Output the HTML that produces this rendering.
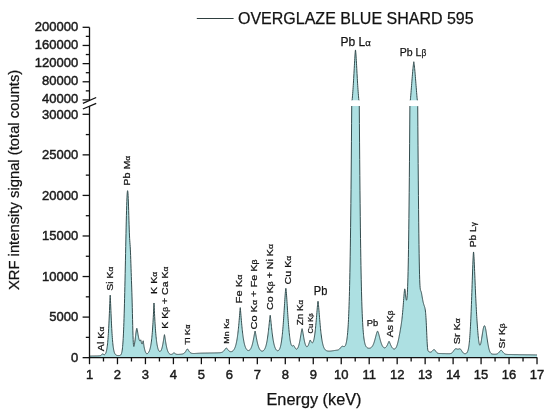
<!DOCTYPE html>
<html><head><meta charset="utf-8"><style>
html,body{margin:0;padding:0;background:#fff;}
svg{display:block;will-change:transform;}
svg text{stroke:#1a1a1a;stroke-width:0.45px;}
svg text.t{stroke-width:0.25px;}
svg text.p{stroke-width:0.25px;}
</style></head><body>
<svg width="550" height="416" viewBox="0 0 550 416">
<rect width="550" height="416" fill="#fff"/>
<path d="M89.5,357.66 L89.5,356.04 89.64,356.03 89.78,356.03 89.92,356.03 90.06,356.03 90.2,356.02 90.34,356.02 90.48,356.02 90.62,356.02 90.76,356.01 90.9,356.01 91.04,356.01 91.18,356.01 91.32,356 91.46,356 91.6,356 91.74,355.99 91.88,355.99 92.02,355.99 92.16,355.99 92.3,355.98 92.44,355.98 92.58,355.98 92.72,355.98 92.86,355.97 93,355.97 93.14,355.97 93.28,355.96 93.42,355.96 93.56,355.96 93.7,355.96 93.84,355.95 93.98,355.95 94.12,355.95 94.25,355.95 94.39,355.94 94.53,355.94 94.67,355.94 94.81,355.93 94.95,355.93 95.09,355.93 95.23,355.93 95.37,355.92 95.51,355.92 95.65,355.92 95.79,355.92 95.93,355.91 96.07,355.91 96.21,355.91 96.35,355.91 96.49,355.9 96.63,355.9 96.77,355.9 96.91,355.89 97.05,355.89 97.19,355.89 97.33,355.89 97.47,355.88 97.61,355.88 97.75,355.88 97.89,355.87 98.03,355.87 98.17,355.86 98.31,355.86 98.45,355.85 98.59,355.85 98.73,355.84 98.87,355.84 99.01,355.83 99.15,355.82 99.29,355.81 99.43,355.8 99.57,355.78 99.71,355.77 99.85,355.75 99.99,355.72 100.13,355.69 100.27,355.66 100.41,355.62 100.55,355.57 100.69,355.51 100.83,355.45 100.97,355.37 101.11,355.28 101.25,355.18 101.39,355.06 101.53,354.93 101.67,354.79 101.81,354.64 101.95,354.48 102.09,354.31 102.23,354.14 102.37,353.99 102.51,353.85 102.65,353.77 102.79,353.81 102.93,353.91 103.07,354.02 103.21,354.14 103.35,354.26 103.48,354.37 103.62,354.47 103.76,354.55 103.9,354.62 104.04,354.66 104.18,354.68 104.32,354.68 104.46,354.65 104.6,354.6 104.74,354.53 104.88,354.43 105.02,354.3 105.16,354.15 105.3,353.96 105.44,353.74 105.58,353.49 105.72,353.21 105.86,352.88 106,352.5 106.14,352.08 106.28,351.6 106.42,351.07 106.56,350.47 106.7,349.8 106.84,349.06 106.98,348.22 107.12,347.3 107.26,346.27 107.4,345.14 107.54,343.88 107.68,342.5 107.82,340.98 107.96,339.32 108.1,337.51 108.24,335.54 108.38,333.4 108.52,331.09 108.66,328.61 108.8,325.95 108.94,323.12 109.08,320.13 109.22,316.99 109.36,313.72 109.5,310.35 109.64,306.94 109.78,303.54 109.92,300.27 110.06,297.31 110.2,295.2 110.34,297.31 110.48,300.27 110.62,303.54 110.76,306.94 110.9,310.35 111.04,313.72 111.18,316.99 111.32,320.13 111.46,323.12 111.6,325.95 111.74,328.61 111.88,331.09 112.02,333.4 112.16,335.54 112.3,337.51 112.44,339.32 112.58,340.98 112.72,342.5 112.85,343.88 112.99,345.14 113.13,346.27 113.27,347.3 113.41,348.23 113.55,349.06 113.69,349.81 113.83,350.48 113.97,351.08 114.11,351.62 114.25,352.09 114.39,352.52 114.53,352.9 114.67,353.23 114.81,353.53 114.95,353.79 115.09,354.02 115.23,354.22 115.37,354.4 115.51,354.56 115.65,354.7 115.79,354.82 115.93,354.93 116.07,355.02 116.21,355.1 116.35,355.17 116.49,355.23 116.63,355.29 116.77,355.34 116.91,355.38 117.05,355.41 117.19,355.44 117.33,355.47 117.47,355.49 117.61,355.51 117.75,355.52 117.89,355.53 118.03,355.54 118.17,355.54 118.31,355.55 118.45,355.55 118.59,355.55 118.73,355.55 118.87,355.54 119.01,355.54 119.15,355.53 119.29,355.51 119.43,355.5 119.57,355.48 119.71,355.45 119.85,355.42 119.99,355.37 120.13,355.32 120.27,355.26 120.41,355.17 120.55,355.07 120.69,354.95 120.83,354.8 120.97,354.61 121.11,354.39 121.25,354.12 121.39,353.79 121.53,353.4 121.67,352.93 121.81,352.37 121.95,351.71 122.09,350.94 122.22,350.04 122.36,348.99 122.5,347.78 122.64,346.39 122.78,344.79 122.92,342.97 123.06,340.92 123.2,338.6 123.34,336.01 123.48,333.12 123.62,329.92 123.76,326.41 123.9,322.56 124.04,318.37 124.18,313.84 124.32,308.98 124.46,303.79 124.6,298.28 124.74,292.48 124.88,286.41 125.02,280.11 125.16,273.6 125.3,266.95 125.44,260.2 125.58,253.41 125.72,246.64 125.86,239.95 126,233.42 126.14,227.11 126.28,221.1 126.42,215.46 126.56,210.25 126.7,205.54 126.84,201.39 126.98,197.86 127.12,194.99 127.26,192.82 127.4,191.39 127.54,190.7 127.68,190.77 127.82,191.6 127.96,193.17 128.1,195.46 128.24,198.43 128.38,202.01 128.52,206.11 128.66,210.62 128.8,215.37 128.94,220.17 129.08,224.81 129.22,229.07 129.36,232.81 129.5,235.96 129.64,238.53 129.78,240.66 129.92,242.55 130.06,244.44 130.2,246.56 130.34,249.08 130.48,252.1 130.62,255.62 130.76,259.57 130.9,263.81 131.04,268.17 131.18,272.46 131.32,276.49 131.45,280.29 131.59,284.06 131.73,287.98 131.87,292.23 132.01,296.91 132.15,302.09 132.29,307.7 132.43,313.63 132.57,319.65 132.71,325.49 132.85,330.88 132.99,335.58 133.13,339.42 133.27,342.35 133.41,344.4 133.55,345.68 133.69,346.34 133.83,346.52 133.97,346.36 134.11,345.96 134.25,345.39 134.39,344.69 134.53,343.9 134.67,343.02 134.81,342.07 134.95,341.05 135.09,339.98 135.23,338.87 135.37,337.73 135.51,336.56 135.65,335.4 135.79,334.24 135.93,333.11 136.07,332.02 136.21,331 136.35,330.08 136.49,329.28 136.63,328.66 136.77,328.29 136.91,328.48 137.05,328.92 137.19,329.52 137.33,330.23 137.47,331.02 137.61,331.85 137.75,332.71 137.89,333.56 138.03,334.41 138.17,335.23 138.31,336.01 138.45,336.74 138.59,337.43 138.73,338.06 138.87,338.64 139.01,339.16 139.15,339.62 139.29,340.03 139.43,340.36 139.57,340.63 139.71,340.82 139.85,340.92 139.99,340.93 140.13,340.84 140.27,340.65 140.41,340.4 140.55,340.1 140.69,339.86 140.82,339.89 140.96,340.48 141.1,341.2 141.24,341.92 141.38,342.58 141.52,343.13 141.66,343.57 141.8,343.87 141.94,344.04 142.08,344.07 142.22,343.96 142.36,343.72 142.5,343.34 142.64,342.84 142.78,342.24 142.92,341.61 143.06,341.05 143.2,340.79 143.34,341.47 143.48,342.46 143.62,343.53 143.76,344.58 143.9,345.56 144.04,346.45 144.18,347.25 144.32,347.97 144.46,348.62 144.6,349.2 144.74,349.74 144.88,350.24 145.02,350.71 145.16,351.14 145.3,351.54 145.44,351.91 145.58,352.25 145.72,352.55 145.86,352.82 146,353.05 146.14,353.25 146.28,353.4 146.42,353.53 146.56,353.62 146.7,353.67 146.84,353.7 146.98,353.71 147.12,353.69 147.26,353.64 147.4,353.58 147.54,353.5 147.68,353.4 147.82,353.29 147.96,353.16 148.1,353.02 148.24,352.86 148.38,352.68 148.52,352.49 148.66,352.28 148.8,352.04 148.94,351.79 149.08,351.52 149.22,351.22 149.36,350.9 149.5,350.55 149.64,350.17 149.78,349.75 149.92,349.3 150.06,348.81 150.19,348.28 150.33,347.71 150.47,347.09 150.61,346.42 150.75,345.69 150.89,344.9 151.03,344.05 151.17,343.13 151.31,342.14 151.45,341.07 151.59,339.92 151.73,338.67 151.87,337.34 152.01,335.9 152.15,334.35 152.29,332.69 152.43,330.91 152.57,329.01 152.71,326.98 152.85,324.81 152.99,322.5 153.13,320.05 153.27,317.46 153.41,314.73 153.55,311.87 153.69,308.91 153.83,305.89 153.97,302.99 154.11,304.7 154.25,307.7 154.39,310.69 154.53,313.6 154.67,316.38 154.81,319.02 154.95,321.53 155.09,323.89 155.23,326.11 155.37,328.19 155.51,330.14 155.65,331.97 155.79,333.67 155.93,335.25 156.07,336.73 156.21,338.09 156.35,339.37 156.49,340.54 156.63,341.64 156.77,342.64 156.91,343.58 157.05,344.44 157.19,345.23 157.33,345.96 157.47,346.62 157.61,347.24 157.75,347.8 157.89,348.31 158.03,348.77 158.17,349.19 158.31,349.57 158.45,349.91 158.59,350.22 158.73,350.48 158.87,350.72 159.01,350.92 159.15,351.09 159.29,351.22 159.42,351.33 159.56,351.41 159.7,351.46 159.84,351.48 159.98,351.48 160.12,351.44 160.26,351.38 160.4,351.29 160.54,351.17 160.68,351.01 160.82,350.83 160.96,350.62 161.1,350.37 161.24,350.09 161.38,349.77 161.52,349.42 161.66,349.03 161.8,348.61 161.94,348.14 162.08,347.64 162.22,347.09 162.36,346.51 162.5,345.88 162.64,345.21 162.78,344.5 162.92,343.75 163.06,342.97 163.2,342.15 163.34,341.29 163.48,340.41 163.62,339.51 163.76,338.6 163.9,337.69 164.04,336.8 164.18,335.95 164.32,335.2 164.46,334.67 164.6,335.22 164.74,335.99 164.88,336.86 165.02,337.77 165.16,338.7 165.3,339.63 165.44,340.55 165.58,341.46 165.72,342.34 165.86,343.19 166,344 166.14,344.78 166.28,345.52 166.42,346.22 166.56,346.89 166.7,347.51 166.84,348.1 166.98,348.65 167.12,349.16 167.26,349.64 167.4,350.09 167.54,350.5 167.68,350.89 167.82,351.24 167.96,351.57 168.1,351.88 168.24,352.15 168.38,352.41 168.52,352.65 168.66,352.86 168.79,353.06 168.93,353.24 169.07,353.4 169.21,353.55 169.35,353.68 169.49,353.8 169.63,353.91 169.77,354.01 169.91,354.1 170.05,354.17 170.19,354.24 170.33,354.29 170.47,354.34 170.61,354.38 170.75,354.4 170.89,354.41 171.03,354.41 171.17,354.41 171.31,354.39 171.45,354.37 171.59,354.33 171.73,354.29 171.87,354.24 172.01,354.18 172.15,354.11 172.29,354.03 172.43,353.94 172.57,353.85 172.71,353.74 172.85,353.63 172.99,353.51 173.13,353.39 173.27,353.27 173.41,353.15 173.55,353.04 173.69,352.93 173.83,352.84 173.97,352.79 174.11,352.83 174.25,352.91 174.39,353 174.53,353.1 174.67,353.21 174.81,353.32 174.95,353.43 175.09,353.54 175.23,353.64 175.37,353.73 175.51,353.82 175.65,353.91 175.79,353.98 175.93,354.05 176.07,354.11 176.21,354.16 176.35,354.21 176.49,354.25 176.63,354.28 176.77,354.31 176.91,354.34 177.05,354.35 177.19,354.37 177.33,354.38 177.47,354.39 177.61,354.4 177.75,354.4 177.89,354.4 178.03,354.4 178.16,354.4 178.3,354.39 178.44,354.39 178.58,354.38 178.72,354.38 178.86,354.37 179,354.36 179.14,354.35 179.28,354.34 179.42,354.33 179.56,354.32 179.7,354.31 179.84,354.3 179.98,354.29 180.12,354.28 180.26,354.27 180.4,354.25 180.54,354.24 180.68,354.22 180.82,354.21 180.96,354.19 181.1,354.18 181.24,354.16 181.38,354.14 181.52,354.12 181.66,354.1 181.8,354.08 181.94,354.05 182.08,354.03 182.22,354 182.36,353.97 182.5,353.94 182.64,353.9 182.78,353.86 182.92,353.82 183.06,353.77 183.2,353.72 183.34,353.66 183.48,353.59 183.62,353.52 183.76,353.44 183.9,353.35 184.04,353.26 184.18,353.16 184.32,353.04 184.46,352.92 184.6,352.79 184.74,352.65 184.88,352.5 185.02,352.34 185.16,352.16 185.3,351.98 185.44,351.78 185.58,351.58 185.72,351.36 185.86,351.14 186,350.91 186.14,350.68 186.28,350.44 186.42,350.2 186.56,349.96 186.7,349.73 186.84,349.51 186.98,349.31 187.12,349.13 187.26,348.98 187.39,348.9 187.53,348.97 187.67,349.1 187.81,349.26 187.95,349.45 188.09,349.66 188.23,349.87 188.37,350.1 188.51,350.32 188.65,350.54 188.79,350.76 188.93,350.98 189.07,351.18 189.21,351.38 189.35,351.57 189.49,351.75 189.63,351.92 189.77,352.08 189.91,352.23 190.05,352.36 190.19,352.49 190.33,352.61 190.47,352.71 190.61,352.81 190.75,352.9 190.89,352.98 191.03,353.05 191.17,353.11 191.31,353.17 191.45,353.22 191.59,353.26 191.73,353.3 191.87,353.34 192.01,353.36 192.15,353.39 192.29,353.41 192.43,353.43 192.57,353.44 192.71,353.46 192.85,353.47 192.99,353.47 193.13,353.48 193.27,353.48 193.41,353.49 193.55,353.49 193.69,353.49 193.83,353.49 193.97,353.48 194.11,353.48 194.25,353.48 194.39,353.47 194.53,353.47 194.67,353.46 194.81,353.46 194.95,353.45 195.09,353.45 195.23,353.44 195.37,353.44 195.51,353.43 195.65,353.42 195.79,353.42 195.93,353.41 196.07,353.4 196.21,353.39 196.35,353.39 196.49,353.38 196.63,353.37 196.76,353.36 196.9,353.36 197.04,353.35 197.18,353.34 197.32,353.34 197.46,353.33 197.6,353.32 197.74,353.31 197.88,353.31 198.02,353.3 198.16,353.29 198.3,353.28 198.44,353.28 198.58,353.27 198.72,353.26 198.86,353.25 199,353.25 199.14,353.24 199.28,353.23 199.42,353.22 199.56,353.22 199.7,353.21 199.84,353.2 199.98,353.19 200.12,353.19 200.26,353.18 200.4,353.17 200.54,353.16 200.68,353.15 200.82,353.15 200.96,353.14 201.1,353.13 201.24,353.12 201.38,353.12 201.52,353.11 201.66,353.11 201.8,353.11 201.94,353.11 202.08,353.11 202.22,353.1 202.36,353.1 202.5,353.1 202.64,353.1 202.78,353.09 202.92,353.09 203.06,353.09 203.2,353.09 203.34,353.08 203.48,353.08 203.62,353.08 203.76,353.08 203.9,353.07 204.04,353.07 204.18,353.07 204.32,353.07 204.46,353.06 204.6,353.06 204.74,353.06 204.88,353.06 205.02,353.05 205.16,353.05 205.3,353.05 205.44,353.05 205.58,353.04 205.72,353.04 205.86,353.04 206,353.04 206.13,353.03 206.27,353.03 206.41,353.03 206.55,353.03 206.69,353.02 206.83,353.02 206.97,353.02 207.11,353.02 207.25,353.02 207.39,353.01 207.53,353.01 207.67,353.01 207.81,353.01 207.95,353 208.09,353 208.23,353 208.37,353 208.51,352.99 208.65,352.99 208.79,352.99 208.93,352.99 209.07,352.98 209.21,352.98 209.35,352.98 209.49,352.98 209.63,352.97 209.77,352.97 209.91,352.97 210.05,352.97 210.19,352.96 210.33,352.96 210.47,352.96 210.61,352.96 210.75,352.95 210.89,352.95 211.03,352.95 211.17,352.95 211.31,352.94 211.45,352.94 211.59,352.94 211.73,352.94 211.87,352.93 212.01,352.93 212.15,352.93 212.29,352.93 212.43,352.93 212.57,352.92 212.71,352.92 212.85,352.92 212.99,352.92 213.13,352.91 213.27,352.91 213.41,352.91 213.55,352.91 213.69,352.9 213.83,352.9 213.97,352.9 214.11,352.9 214.25,352.89 214.39,352.89 214.53,352.89 214.67,352.89 214.81,352.88 214.95,352.88 215.09,352.88 215.23,352.88 215.36,352.87 215.5,352.87 215.64,352.87 215.78,352.87 215.92,352.86 216.06,352.86 216.2,352.86 216.34,352.85 216.48,352.85 216.62,352.85 216.76,352.85 216.9,352.84 217.04,352.84 217.18,352.84 217.32,352.83 217.46,352.83 217.6,352.83 217.74,352.82 217.88,352.82 218.02,352.81 218.16,352.81 218.3,352.81 218.44,352.8 218.58,352.8 218.72,352.79 218.86,352.78 219,352.78 219.14,352.77 219.28,352.76 219.42,352.75 219.56,352.74 219.7,352.73 219.84,352.72 219.98,352.7 220.12,352.69 220.26,352.67 220.4,352.65 220.54,352.63 220.68,352.61 220.82,352.58 220.96,352.56 221.1,352.52 221.24,352.49 221.38,352.45 221.52,352.41 221.66,352.37 221.8,352.32 221.94,352.26 222.08,352.21 222.22,352.14 222.36,352.07 222.5,351.99 222.64,351.91 222.78,351.82 222.92,351.73 223.06,351.62 223.2,351.51 223.34,351.39 223.48,351.26 223.62,351.13 223.76,350.98 223.9,350.83 224.04,350.67 224.18,350.5 224.32,350.33 224.46,350.15 224.6,349.96 224.73,349.77 224.87,349.57 225.01,349.37 225.15,349.17 225.29,348.98 225.43,348.78 225.57,348.59 225.71,348.42 225.85,348.25 225.99,348.11 226.13,347.99 226.27,347.93 226.41,347.98 226.55,348.09 226.69,348.22 226.83,348.37 226.97,348.54 227.11,348.71 227.25,348.89 227.39,349.08 227.53,349.27 227.67,349.45 227.81,349.63 227.95,349.81 228.09,349.98 228.23,350.15 228.37,350.31 228.51,350.46 228.65,350.6 228.79,350.73 228.93,350.86 229.07,350.97 229.21,351.08 229.35,351.17 229.49,351.26 229.63,351.34 229.77,351.41 229.91,351.47 230.05,351.52 230.19,351.57 230.33,351.6 230.47,351.63 230.61,351.65 230.75,351.66 230.89,351.67 231.03,351.66 231.17,351.65 231.31,351.63 231.45,351.61 231.59,351.57 231.73,351.53 231.87,351.48 232.01,351.42 232.15,351.36 232.29,351.28 232.43,351.2 232.57,351.11 232.71,351.01 232.85,350.9 232.99,350.78 233.13,350.65 233.27,350.51 233.41,350.36 233.55,350.19 233.69,350.01 233.83,349.82 233.97,349.62 234.1,349.4 234.24,349.16 234.38,348.9 234.52,348.63 234.66,348.34 234.8,348.03 234.94,347.7 235.08,347.35 235.22,346.97 235.36,346.57 235.5,346.14 235.64,345.68 235.78,345.19 235.92,344.67 236.06,344.13 236.2,343.54 236.34,342.92 236.48,342.26 236.62,341.57 236.76,340.83 236.9,340.05 237.04,339.23 237.18,338.36 237.32,337.44 237.46,336.47 237.6,335.45 237.74,334.38 237.88,333.25 238.02,332.07 238.16,330.84 238.3,329.54 238.44,328.19 238.58,326.79 238.72,325.32 238.86,323.81 239,322.24 239.14,320.62 239.28,318.97 239.42,317.27 239.56,315.55 239.7,313.82 239.84,312.1 239.98,310.43 240.12,308.86 240.26,307.61 240.4,308.86 240.54,310.43 240.68,312.1 240.82,313.82 240.96,315.55 241.1,317.27 241.24,318.96 241.38,320.62 241.52,322.23 241.66,323.8 241.8,325.31 241.94,326.78 242.08,328.18 242.22,329.53 242.36,330.82 242.5,332.06 242.64,333.23 242.78,334.36 242.92,335.43 243.06,336.44 243.2,337.41 243.33,338.32 243.47,339.19 243.61,340.01 243.75,340.79 243.89,341.52 244.03,342.21 244.17,342.86 244.31,343.48 244.45,344.05 244.59,344.6 244.73,345.11 244.87,345.58 245.01,346.03 245.15,346.45 245.29,346.84 245.43,347.21 245.57,347.55 245.71,347.87 245.85,348.16 245.99,348.44 246.13,348.69 246.27,348.92 246.41,349.14 246.55,349.33 246.69,349.52 246.83,349.68 246.97,349.83 247.11,349.96 247.25,350.08 247.39,350.18 247.53,350.27 247.67,350.35 247.81,350.41 247.95,350.46 248.09,350.5 248.23,350.53 248.37,350.54 248.51,350.54 248.65,350.53 248.79,350.5 248.93,350.46 249.07,350.41 249.21,350.35 249.35,350.27 249.49,350.18 249.63,350.07 249.77,349.95 249.91,349.82 250.05,349.66 250.19,349.5 250.33,349.31 250.47,349.11 250.61,348.89 250.75,348.65 250.89,348.39 251.03,348.11 251.17,347.81 251.31,347.49 251.45,347.15 251.59,346.78 251.73,346.39 251.87,345.98 252.01,345.54 252.15,345.07 252.29,344.58 252.43,344.06 252.57,343.51 252.7,342.94 252.84,342.34 252.98,341.72 253.12,341.07 253.26,340.39 253.4,339.69 253.54,338.96 253.68,338.22 253.82,337.46 253.96,336.68 254.1,335.89 254.24,335.1 254.38,334.32 254.52,333.55 254.66,332.8 254.8,332.1 254.94,331.49 255.08,331.05 255.22,331.49 255.36,332.11 255.5,332.81 255.64,333.56 255.78,334.33 255.92,335.12 256.06,335.92 256.2,336.7 256.34,337.48 256.48,338.25 256.62,339 256.76,339.73 256.9,340.43 257.04,341.11 257.18,341.77 257.32,342.4 257.46,343 257.6,343.58 257.74,344.13 257.88,344.65 258.02,345.15 258.16,345.62 258.3,346.07 258.44,346.49 258.58,346.89 258.72,347.26 258.86,347.62 259,347.95 259.14,348.26 259.28,348.55 259.42,348.82 259.56,349.07 259.7,349.3 259.84,349.52 259.98,349.72 260.12,349.9 260.26,350.07 260.4,350.22 260.54,350.36 260.68,350.49 260.82,350.6 260.96,350.7 261.1,350.79 261.24,350.87 261.38,350.94 261.52,350.99 261.66,351.03 261.8,351.07 261.94,351.09 262.07,351.1 262.21,351.1 262.35,351.09 262.49,351.07 262.63,351.04 262.77,350.99 262.91,350.94 263.05,350.87 263.19,350.8 263.33,350.71 263.47,350.6 263.61,350.49 263.75,350.36 263.89,350.21 264.03,350.05 264.17,349.87 264.31,349.68 264.45,349.47 264.59,349.24 264.73,348.99 264.87,348.72 265.01,348.42 265.15,348.11 265.29,347.77 265.43,347.4 265.57,347.01 265.71,346.59 265.85,346.14 265.99,345.66 266.13,345.14 266.27,344.6 266.41,344.01 266.55,343.39 266.69,342.74 266.83,342.04 266.97,341.3 267.11,340.52 267.25,339.7 267.39,338.84 267.53,337.92 267.67,336.97 267.81,335.97 267.95,334.92 268.09,333.83 268.23,332.69 268.37,331.51 268.51,330.29 268.65,329.03 268.79,327.74 268.93,326.42 269.07,325.07 269.21,323.71 269.35,322.34 269.49,320.98 269.63,319.64 269.77,318.35 269.91,317.14 270.05,316.07 270.19,315.32 270.33,316.06 270.47,317.13 270.61,318.34 270.75,319.63 270.89,320.97 271.03,322.33 271.17,323.69 271.3,325.05 271.44,326.4 271.58,327.72 271.72,329.01 271.86,330.27 272,331.49 272.14,332.66 272.28,333.8 272.42,334.89 272.56,335.94 272.7,336.94 272.84,337.89 272.98,338.8 273.12,339.67 273.26,340.49 273.4,341.26 273.54,342 273.68,342.7 273.82,343.35 273.96,343.97 274.1,344.55 274.24,345.1 274.38,345.61 274.52,346.09 274.66,346.54 274.8,346.96 274.94,347.35 275.08,347.71 275.22,348.05 275.36,348.36 275.5,348.65 275.64,348.92 275.78,349.17 275.92,349.39 276.06,349.6 276.2,349.78 276.34,349.95 276.48,350.1 276.62,350.24 276.76,350.35 276.9,350.46 277.04,350.54 277.18,350.61 277.32,350.67 277.46,350.7 277.6,350.73 277.74,350.73 277.88,350.73 278.02,350.7 278.16,350.66 278.3,350.6 278.44,350.52 278.58,350.42 278.72,350.3 278.86,350.16 279,350 279.14,349.82 279.28,349.6 279.42,349.37 279.56,349.1 279.7,348.8 279.84,348.47 279.98,348.11 280.12,347.71 280.26,347.27 280.4,346.79 280.54,346.26 280.67,345.69 280.81,345.07 280.95,344.4 281.09,343.67 281.23,342.89 281.37,342.04 281.51,341.14 281.65,340.16 281.79,339.12 281.93,338.01 282.07,336.83 282.21,335.58 282.35,334.24 282.49,332.84 282.63,331.35 282.77,329.78 282.91,328.14 283.05,326.42 283.19,324.63 283.33,322.76 283.47,320.82 283.61,318.82 283.75,316.76 283.89,314.64 284.03,312.48 284.17,310.28 284.31,308.06 284.45,305.83 284.59,303.61 284.73,301.41 284.87,299.25 285.01,297.15 285.15,295.15 285.29,293.28 285.43,291.59 285.57,290.11 285.71,288.95 285.85,288.3 285.99,288.94 286.13,290.1 286.27,291.57 286.41,293.26 286.55,295.13 286.69,297.12 286.83,299.21 286.97,301.37 287.11,303.56 287.25,305.78 287.39,308 287.53,310.22 287.67,312.4 287.81,314.55 287.95,316.66 288.09,318.71 288.23,320.69 288.37,322.61 288.51,324.46 288.65,326.23 288.79,327.93 288.93,329.54 289.07,331.07 289.21,332.52 289.35,333.88 289.49,335.16 289.63,336.36 289.77,337.48 289.91,338.52 290.04,339.48 290.18,340.37 290.32,341.18 290.46,341.91 290.6,342.58 290.74,343.18 290.88,343.71 291.02,344.18 291.16,344.58 291.3,344.93 291.44,345.22 291.58,345.46 291.72,345.64 291.86,345.78 292,345.88 292.14,345.94 292.28,345.96 292.42,345.96 292.56,345.92 292.7,345.87 292.84,345.8 292.98,345.72 293.12,345.64 293.26,345.56 293.4,345.5 293.54,345.47 293.68,345.49 293.82,345.63 293.96,345.82 294.1,346.05 294.24,346.29 294.38,346.54 294.52,346.8 294.66,347.07 294.8,347.33 294.94,347.58 295.08,347.82 295.22,348.04 295.36,348.25 295.5,348.44 295.64,348.61 295.78,348.76 295.92,348.88 296.06,348.98 296.2,349.06 296.34,349.1 296.48,349.13 296.62,349.12 296.76,349.09 296.9,349.03 297.04,348.94 297.18,348.82 297.32,348.68 297.46,348.5 297.6,348.3 297.74,348.07 297.88,347.81 298.02,347.51 298.16,347.19 298.3,346.84 298.44,346.46 298.58,346.04 298.72,345.6 298.86,345.12 299,344.61 299.14,344.06 299.27,343.49 299.41,342.88 299.55,342.24 299.69,341.57 299.83,340.86 299.97,340.13 300.11,339.37 300.25,338.59 300.39,337.78 300.53,336.95 300.67,336.1 300.81,335.24 300.95,334.38 301.09,333.52 301.23,332.66 301.37,331.83 301.51,331.03 301.65,330.27 301.79,329.59 301.93,329.02 302.07,328.66 302.21,329 302.35,329.55 302.49,330.21 302.63,330.95 302.77,331.73 302.91,332.54 303.05,333.37 303.19,334.21 303.33,335.05 303.47,335.88 303.61,336.7 303.75,337.49 303.89,338.27 304.03,339.02 304.17,339.74 304.31,340.43 304.45,341.09 304.59,341.71 304.73,342.3 304.87,342.85 305.01,343.37 305.15,343.85 305.29,344.29 305.43,344.69 305.57,345.06 305.71,345.39 305.85,345.68 305.99,345.94 306.13,346.16 306.27,346.35 306.41,346.5 306.55,346.61 306.69,346.69 306.83,346.74 306.97,346.75 307.11,346.72 307.25,346.67 307.39,346.58 307.53,346.45 307.67,346.3 307.81,346.11 307.95,345.89 308.09,345.65 308.23,345.37 308.37,345.07 308.51,344.74 308.64,344.38 308.78,344 308.92,343.61 309.06,343.19 309.2,342.76 309.34,342.33 309.48,341.89 309.62,341.45 309.76,341.02 309.9,340.63 310.04,340.27 310.18,340.02 310.32,340.12 310.46,340.32 310.6,340.56 310.74,340.83 310.88,341.11 311.02,341.38 311.16,341.65 311.3,341.89 311.44,342.12 311.58,342.33 311.72,342.5 311.86,342.64 312,342.75 312.14,342.81 312.28,342.84 312.42,342.82 312.56,342.75 312.7,342.64 312.84,342.48 312.98,342.26 313.12,342 313.26,341.68 313.4,341.3 313.54,340.86 313.68,340.37 313.82,339.82 313.96,339.2 314.1,338.53 314.24,337.79 314.38,336.99 314.52,336.12 314.66,335.2 314.8,334.2 314.94,333.14 315.08,332.02 315.22,330.83 315.36,329.58 315.5,328.27 315.64,326.89 315.78,325.46 315.92,323.97 316.06,322.43 316.2,320.84 316.34,319.21 316.48,317.55 316.62,315.86 316.76,314.15 316.9,312.44 317.04,310.74 317.18,309.06 317.32,307.42 317.46,305.85 317.6,304.39 317.74,303.07 317.88,301.96 318.01,301.28 318.15,301.97 318.29,303.08 318.43,304.4 318.57,305.88 318.71,307.45 318.85,309.1 318.99,310.79 319.13,312.51 319.27,314.24 319.41,315.96 319.55,317.67 319.69,319.36 319.83,321.01 319.97,322.63 320.11,324.21 320.25,325.73 320.39,327.21 320.53,328.64 320.67,330.01 320.81,331.32 320.95,332.58 321.09,333.78 321.23,334.92 321.37,336.01 321.51,337.04 321.65,338.02 321.79,338.95 321.93,339.82 322.07,340.65 322.21,341.42 322.35,342.15 322.49,342.83 322.63,343.47 322.77,344.07 322.91,344.63 323.05,345.16 323.19,345.64 323.33,346.1 323.47,346.52 323.61,346.91 323.75,347.28 323.89,347.61 324.03,347.92 324.17,348.21 324.31,348.48 324.45,348.72 324.59,348.95 324.73,349.15 324.87,349.34 325.01,349.52 325.15,349.68 325.29,349.83 325.43,349.96 325.57,350.08 325.71,350.19 325.85,350.3 325.99,350.39 326.13,350.47 326.27,350.55 326.41,350.62 326.55,350.68 326.69,350.73 326.83,350.78 326.97,350.83 327.11,350.87 327.24,350.91 327.38,350.94 327.52,350.97 327.66,350.99 327.8,351.02 327.94,351.03 328.08,351.05 328.22,351.07 328.36,351.08 328.5,351.09 328.64,351.1 328.78,351.11 328.92,351.11 329.06,351.12 329.2,351.12 329.34,351.12 329.48,351.13 329.62,351.13 329.76,351.13 329.9,351.13 330.04,351.12 330.18,351.11 330.32,351.09 330.46,351.08 330.6,351.06 330.74,351.04 330.88,351.03 331.02,351.01 331.16,350.99 331.3,350.97 331.44,350.95 331.58,350.93 331.72,350.92 331.86,350.9 332,350.88 332.14,350.86 332.28,350.84 332.42,350.82 332.56,350.8 332.7,350.78 332.84,350.76 332.98,350.74 333.12,350.72 333.26,350.7 333.4,350.68 333.54,350.66 333.68,350.64 333.82,350.62 333.96,350.6 334.1,350.58 334.24,350.56 334.38,350.54 334.52,350.52 334.66,350.5 334.8,350.48 334.94,350.46 335.08,350.44 335.22,350.42 335.36,350.4 335.5,350.38 335.64,350.36 335.78,350.34 335.92,350.32 336.06,350.29 336.2,350.27 336.34,350.25 336.48,350.23 336.61,350.21 336.75,350.18 336.89,350.16 337.03,350.14 337.17,350.11 337.31,350.08 337.45,350.05 337.59,350.02 337.73,349.98 337.87,349.94 338.01,349.9 338.15,349.85 338.29,349.8 338.43,349.74 338.57,349.67 338.71,349.6 338.85,349.52 338.99,349.43 339.13,349.32 339.27,349.21 339.41,349.09 339.55,348.96 339.69,348.82 339.83,348.67 339.97,348.51 340.11,348.34 340.25,348.17 340.39,347.99 340.53,347.81 340.67,347.63 340.81,347.45 340.95,347.28 341.09,347.11 341.23,346.95 341.37,346.8 341.51,346.67 341.65,346.55 341.79,346.45 341.93,346.37 342.07,346.3 342.21,346.26 342.35,346.24 342.49,346.23 342.63,346.24 342.77,346.26 342.91,346.3 343.05,346.34 343.19,346.39 343.33,346.44 343.47,346.49 343.61,346.53 343.75,346.57 343.89,346.59 344.03,346.61 344.17,346.6 344.31,346.57 344.45,346.52 344.59,346.45 344.73,346.35 344.87,346.21 345.01,346.05 345.15,345.85 345.29,345.62 345.43,345.35 345.57,345.04 345.71,344.68 345.85,344.28 345.98,343.83 346.12,343.32 346.26,342.76 346.4,342.13 346.54,341.44 346.68,340.67 346.82,339.83 346.96,338.89 347.1,337.86 347.24,336.72 347.38,335.46 347.52,334.08 347.66,332.55 347.8,330.87 347.94,329.02 348.08,326.98 348.22,324.74 348.36,322.27 348.5,319.55 348.64,316.57 348.78,313.28 348.92,309.67 349.06,305.71 349.2,301.36 349.34,296.58 349.48,291.34 349.62,285.6 349.76,279.35 349.9,272.5 350.04,265.01 350.18,256.82 350.32,247.89 350.46,238.14 350.6,227.52 350.74,215.97 350.88,203.42 351.02,189.79 351.16,175.03 351.3,159.06 351.44,141.81 351.58,123.21 351.72,106 351.86,106 352,106 352.14,106 352.28,106 352.42,106 352.56,106 352.7,106 352.84,106 352.98,106 353.12,106 353.26,106 353.4,106 353.54,106 353.68,106 353.82,106 353.96,106 354.1,106 354.24,106 354.38,106 354.52,106 354.66,106 354.8,106 354.94,106 355.08,106 355.21,106 355.35,106 355.49,106 355.63,106 355.77,106 355.91,106 356.05,106 356.19,106 356.33,106 356.47,106 356.61,106 356.75,106 356.89,106 357.03,106 357.17,106 357.31,106 357.45,106 357.59,106 357.73,106 357.87,106 358.01,106 358.15,106 358.29,106 358.43,106 358.57,106 358.71,106 358.85,106 358.99,106 359.13,106 359.27,106 359.41,123.54 359.55,142.15 359.69,159.41 359.83,175.39 359.97,190.17 360.11,203.8 360.25,216.36 360.39,227.93 360.53,238.56 360.67,248.31 360.81,257.26 360.95,265.46 361.09,272.96 361.23,279.82 361.37,286.09 361.51,291.81 361.65,297.02 361.79,301.78 361.93,306.11 362.07,310.05 362.21,313.64 362.35,316.9 362.49,319.87 362.63,322.56 362.77,325.01 362.91,327.23 363.05,329.25 363.19,331.08 363.33,332.74 363.47,334.25 363.61,335.62 363.75,336.85 363.89,337.98 364.03,338.99 364.17,339.92 364.31,340.75 364.45,341.51 364.58,342.19 364.72,342.82 364.86,343.38 365,343.89 365.14,344.35 365.28,344.77 365.42,345.14 365.56,345.49 365.7,345.79 365.84,346.07 365.98,346.33 366.12,346.55 366.26,346.76 366.4,346.95 366.54,347.11 366.68,347.26 366.82,347.4 366.96,347.52 367.1,347.63 367.24,347.73 367.38,347.81 367.52,347.89 367.66,347.96 367.8,348.02 367.94,348.07 368.08,348.11 368.22,348.15 368.36,348.18 368.5,348.21 368.64,348.23 368.78,348.24 368.92,348.25 369.06,348.25 369.2,348.24 369.34,348.23 369.48,348.22 369.62,348.2 369.76,348.18 369.9,348.15 370.04,348.11 370.18,348.06 370.32,348.01 370.46,347.95 370.6,347.89 370.74,347.82 370.88,347.73 371.02,347.64 371.16,347.54 371.3,347.43 371.44,347.31 371.58,347.18 371.72,347.04 371.86,346.88 372,346.71 372.14,346.53 372.28,346.34 372.42,346.13 372.56,345.91 372.7,345.67 372.84,345.42 372.98,345.15 373.12,344.86 373.26,344.55 373.4,344.23 373.54,343.89 373.68,343.54 373.82,343.16 373.95,342.77 374.09,342.36 374.23,341.94 374.37,341.5 374.51,341.04 374.65,340.56 374.79,340.08 374.93,339.57 375.07,339.06 375.21,338.54 375.35,338.01 375.49,337.47 375.63,336.93 375.77,336.39 375.91,335.85 376.05,335.31 376.19,334.78 376.33,334.27 376.47,333.77 376.61,333.29 376.75,332.84 376.89,332.42 377.03,332.04 377.17,331.71 377.31,331.43 377.45,331.23 377.59,331.13 377.73,331.25 377.87,331.46 378.01,331.76 378.15,332.1 378.29,332.5 378.43,332.93 378.57,333.4 378.71,333.89 378.85,334.41 378.99,334.94 379.13,335.48 379.27,336.03 379.41,336.59 379.55,337.14 379.69,337.7 379.83,338.25 379.97,338.79 380.11,339.33 380.25,339.86 380.39,340.37 380.53,340.87 380.67,341.36 380.81,341.83 380.95,342.28 381.09,342.71 381.23,343.13 381.37,343.53 381.51,343.91 381.65,344.28 381.79,344.62 381.93,344.94 382.07,345.25 382.21,345.54 382.35,345.81 382.49,346.06 382.63,346.29 382.77,346.51 382.91,346.71 383.05,346.89 383.18,347.05 383.32,347.2 383.46,347.33 383.6,347.45 383.74,347.55 383.88,347.64 384.02,347.71 384.16,347.76 384.3,347.8 384.44,347.83 384.58,347.84 384.72,347.84 384.86,347.82 385,347.78 385.14,347.73 385.28,347.67 385.42,347.59 385.56,347.5 385.7,347.39 385.84,347.26 385.98,347.12 386.12,346.96 386.26,346.79 386.4,346.6 386.54,346.39 386.68,346.17 386.82,345.94 386.96,345.68 387.1,345.42 387.24,345.13 387.38,344.84 387.52,344.53 387.66,344.22 387.8,343.89 387.94,343.56 388.08,343.23 388.22,342.9 388.36,342.57 388.5,342.25 388.64,341.95 388.78,341.68 388.92,341.45 389.06,341.31 389.2,341.47 389.34,341.71 389.48,342 389.62,342.32 389.76,342.66 389.9,343 390.04,343.36 390.18,343.71 390.32,344.06 390.46,344.41 390.6,344.74 390.74,345.07 390.88,345.39 391.02,345.7 391.16,345.99 391.3,346.27 391.44,346.53 391.58,346.78 391.72,347.02 391.86,347.24 392,347.45 392.14,347.65 392.28,347.83 392.42,347.99 392.55,348.15 392.69,348.29 392.83,348.41 392.97,348.53 393.11,348.63 393.25,348.72 393.39,348.79 393.53,348.86 393.67,348.91 393.81,348.95 393.95,348.98 394.09,349 394.23,349 394.37,348.99 394.51,348.96 394.65,348.92 394.79,348.87 394.93,348.8 395.07,348.71 395.21,348.61 395.35,348.49 395.49,348.35 395.63,348.19 395.77,348.01 395.91,347.81 396.05,347.59 396.19,347.34 396.33,347.07 396.47,346.78 396.61,346.46 396.75,346.11 396.89,345.74 397.03,345.34 397.17,344.92 397.31,344.47 397.45,343.99 397.59,343.49 397.73,342.97 397.87,342.42 398.01,341.84 398.15,341.24 398.29,340.62 398.43,339.98 398.57,339.32 398.71,338.65 398.85,337.95 398.99,337.25 399.13,336.53 399.27,335.8 399.41,335.06 399.55,334.31 399.69,333.56 399.83,332.79 399.97,332.02 400.11,331.25 400.25,330.46 400.39,329.67 400.53,328.86 400.67,328.04 400.81,327.2 400.95,326.34 401.09,325.45 401.23,324.54 401.37,323.59 401.51,322.6 401.65,321.57 401.79,320.48 401.92,319.34 402.06,318.13 402.2,316.86 402.34,315.52 402.48,314.1 402.62,312.61 402.76,311.05 402.9,309.42 403.04,307.72 403.18,305.96 403.32,304.16 403.46,302.32 403.6,300.46 403.74,298.61 403.88,296.79 404.02,295.03 404.16,293.37 404.3,291.84 404.44,290.52 404.58,289.47 404.72,288.87 404.86,289.21 405,289.98 405.14,291 405.28,292.18 405.42,293.44 405.56,294.71 405.7,295.96 405.84,297.13 405.98,298.17 406.12,299.04 406.26,299.7 406.4,300.12 406.54,300.24 406.68,300.04 406.82,299.48 406.96,298.52 407.1,297.12 407.24,295.24 407.38,292.84 407.52,289.88 407.66,286.31 407.8,282.09 407.94,277.16 408.08,271.47 408.22,264.98 408.36,257.63 408.5,249.35 408.64,240.1 408.78,229.82 408.92,218.46 409.06,205.97 409.2,192.29 409.34,177.38 409.48,161.21 409.62,143.75 409.76,124.98 409.9,106 410.04,106 410.18,106 410.32,106 410.46,106 410.6,106 410.74,106 410.88,106 411.02,106 411.15,106 411.29,106 411.43,106 411.57,106 411.71,106 411.85,106 411.99,106 412.13,106 412.27,106 412.41,106 412.55,106 412.69,106 412.83,106 412.97,106 413.11,106 413.25,106 413.39,106 413.53,106 413.67,106 413.81,106 413.95,106 414.09,106 414.23,106 414.37,106 414.51,106 414.65,106 414.79,106 414.93,106 415.07,106 415.21,106 415.35,106 415.49,106 415.63,106 415.77,106 415.91,106 416.05,106 416.19,106 416.33,106 416.47,106 416.61,106 416.75,106 416.89,106 417.03,106 417.17,106 417.31,106 417.45,106 417.59,106 417.73,106.54 417.87,126.85 418.01,145.86 418.15,163.58 418.29,180.05 418.43,195.28 418.57,209.31 418.71,222.17 418.85,233.87 418.99,244.41 419.13,253.78 419.27,261.97 419.41,268.96 419.55,274.77 419.69,279.44 419.83,283.05 419.97,285.72 420.11,287.6 420.25,288.86 420.39,289.67 420.52,290.18 420.66,290.53 420.8,290.81 420.94,291.11 421.08,291.48 421.22,291.94 421.36,292.49 421.5,293.13 421.64,293.85 421.78,294.63 421.92,295.45 422.06,296.28 422.2,297.12 422.34,297.94 422.48,298.75 422.62,299.51 422.76,300.25 422.9,300.94 423.04,301.59 423.18,302.2 423.32,302.77 423.46,303.31 423.6,303.82 423.74,304.29 423.88,304.75 424.02,305.18 424.16,305.59 424.3,306 424.44,306.41 424.58,306.83 424.72,307.29 424.86,307.8 425,308.4 425.14,309.1 425.28,309.96 425.42,311 425.56,312.25 425.7,313.77 425.84,315.57 425.98,317.68 426.12,320.1 426.26,322.82 426.4,325.78 426.54,328.94 426.68,332.19 426.82,335.43 426.96,338.53 427.1,341.39 427.24,343.9 427.38,346.01 427.52,347.68 427.66,348.94 427.8,349.84 427.94,350.45 428.08,350.85 428.22,351.11 428.36,351.29 428.5,351.41 428.64,351.51 428.78,351.6 428.92,351.68 429.06,351.75 429.2,351.82 429.34,351.88 429.48,351.93 429.62,351.99 429.76,352.03 429.89,352.07 430.03,352.1 430.17,352.12 430.31,352.13 430.45,352.14 430.59,352.13 430.73,352.11 430.87,352.08 431.01,352.03 431.15,351.97 431.29,351.9 431.43,351.81 431.57,351.71 431.71,351.6 431.85,351.47 431.99,351.33 432.13,351.18 432.27,351.02 432.41,350.86 432.55,350.69 432.69,350.52 432.83,350.36 432.97,350.2 433.11,350.06 433.25,349.92 433.39,349.81 433.53,349.72 433.67,349.63 433.81,349.58 433.95,349.55 434.09,349.55 434.23,349.58 434.37,349.63 434.51,349.71 434.65,349.82 434.79,349.95 434.93,350.1 435.07,350.27 435.21,350.45 435.35,350.65 435.49,350.85 435.63,351.05 435.77,351.26 435.91,351.46 436.05,351.66 436.19,351.85 436.33,352.03 436.47,352.21 436.61,352.37 436.75,352.51 436.89,352.65 437.03,352.77 437.17,352.87 437.31,352.97 437.45,353.05 437.59,353.13 437.73,353.19 437.87,353.24 438.01,353.29 438.15,353.33 438.29,353.36 438.43,353.39 438.57,353.41 438.71,353.43 438.85,353.45 438.99,353.46 439.12,353.48 439.26,353.49 439.4,353.49 439.54,353.5 439.68,353.51 439.82,353.51 439.96,353.52 440.1,353.52 440.24,353.53 440.38,353.53 440.52,353.54 440.66,353.54 440.8,353.54 440.94,353.55 441.08,353.55 441.22,353.55 441.36,353.56 441.5,353.56 441.64,353.56 441.78,353.56 441.92,353.57 442.06,353.57 442.2,353.57 442.34,353.58 442.48,353.58 442.62,353.58 442.76,353.59 442.9,353.59 443.04,353.59 443.18,353.59 443.32,353.6 443.46,353.6 443.6,353.6 443.74,353.6 443.88,353.61 444.02,353.61 444.16,353.61 444.3,353.61 444.44,353.62 444.58,353.62 444.72,353.62 444.86,353.62 445,353.63 445.14,353.63 445.28,353.63 445.42,353.64 445.56,353.64 445.7,353.64 445.84,353.64 445.98,353.64 446.12,353.65 446.26,353.65 446.4,353.65 446.54,353.65 446.68,353.66 446.82,353.66 446.96,353.66 447.1,353.66 447.24,353.67 447.38,353.67 447.52,353.67 447.66,353.67 447.8,353.67 447.94,353.68 448.08,353.68 448.22,353.68 448.36,353.68 448.49,353.68 448.63,353.68 448.77,353.68 448.91,353.68 449.05,353.68 449.19,353.68 449.33,353.67 449.47,353.67 449.61,353.66 449.75,353.65 449.89,353.64 450.03,353.63 450.17,353.61 450.31,353.59 450.45,353.56 450.59,353.53 450.73,353.5 450.87,353.46 451.01,353.41 451.15,353.36 451.29,353.3 451.43,353.23 451.57,353.15 451.71,353.06 451.85,352.96 451.99,352.85 452.13,352.73 452.27,352.6 452.41,352.46 452.55,352.31 452.69,352.14 452.83,351.97 452.97,351.79 453.11,351.6 453.25,351.4 453.39,351.2 453.53,350.99 453.67,350.79 453.81,350.58 453.95,350.37 454.09,350.17 454.23,349.97 454.37,349.78 454.51,349.6 454.65,349.44 454.79,349.29 454.93,349.15 455.07,349.03 455.21,348.93 455.35,348.85 455.49,348.78 455.63,348.74 455.77,348.71 455.91,348.7 456.05,348.7 456.19,348.72 456.33,348.75 456.47,348.79 456.61,348.84 456.75,348.89 456.89,348.94 457.03,349 457.17,349.05 457.31,349.09 457.45,349.13 457.59,349.16 457.73,349.17 457.86,349.18 458,349.18 458.14,349.16 458.28,349.14 458.42,349.11 458.56,349.07 458.7,349.02 458.84,348.98 458.98,348.93 459.12,348.89 459.26,348.85 459.4,348.82 459.54,348.8 459.68,348.8 459.82,348.82 459.96,348.85 460.1,348.9 460.24,348.97 460.38,349.06 460.52,349.18 460.66,349.31 460.8,349.46 460.94,349.63 461.08,349.82 461.22,350.02 461.36,350.23 461.5,350.45 461.64,350.67 461.78,350.9 461.92,351.12 462.06,351.35 462.2,351.57 462.34,351.78 462.48,351.98 462.62,352.18 462.76,352.36 462.9,352.54 463.04,352.7 463.18,352.84 463.32,352.98 463.46,353.1 463.6,353.2 463.74,353.3 463.88,353.38 464.02,353.45 464.16,353.51 464.3,353.56 464.44,353.6 464.58,353.63 464.72,353.65 464.86,353.67 465,353.67 465.14,353.67 465.28,353.66 465.42,353.65 465.56,353.62 465.7,353.58 465.84,353.54 465.98,353.49 466.12,353.42 466.26,353.34 466.4,353.25 466.54,353.14 466.68,353.01 466.82,352.87 466.96,352.7 467.09,352.5 467.23,352.28 467.37,352.02 467.51,351.73 467.65,351.4 467.79,351.02 467.93,350.59 468.07,350.11 468.21,349.57 468.35,348.96 468.49,348.27 468.63,347.51 468.77,346.65 468.91,345.7 469.05,344.65 469.19,343.49 469.33,342.21 469.47,340.8 469.61,339.25 469.75,337.57 469.89,335.73 470.03,333.73 470.17,331.57 470.31,329.24 470.45,326.74 470.59,324.06 470.73,321.21 470.87,318.18 471.01,314.97 471.15,311.6 471.29,308.06 471.43,304.37 471.57,300.55 471.71,296.61 471.85,292.58 471.99,288.47 472.13,284.32 472.27,280.17 472.41,276.05 472.55,272.01 472.69,268.11 472.83,264.4 472.97,260.95 473.11,257.85 473.25,255.19 473.39,253.12 473.53,251.96 473.67,252.63 473.81,254.19 473.95,256.33 474.09,258.9 474.23,261.79 474.37,264.93 474.51,268.23 474.65,271.64 474.79,275.11 474.93,278.59 475.07,282.05 475.21,285.45 475.35,288.79 475.49,292.04 475.63,295.18 475.77,298.22 475.91,301.14 476.05,303.95 476.19,306.66 476.33,309.25 476.46,311.76 476.6,314.16 476.74,316.48 476.88,318.72 477.02,320.88 477.16,322.97 477.3,324.99 477.44,326.93 477.58,328.8 477.72,330.59 477.86,332.31 478,333.93 478.14,335.47 478.28,336.91 478.42,338.25 478.56,339.48 478.7,340.6 478.84,341.6 478.98,342.49 479.12,343.24 479.26,343.88 479.4,344.39 479.54,344.78 479.68,345.04 479.82,345.19 479.96,345.22 480.1,345.14 480.24,344.96 480.38,344.67 480.52,344.3 480.66,343.83 480.8,343.29 480.94,342.68 481.08,341.99 481.22,341.25 481.36,340.46 481.5,339.63 481.64,338.76 481.78,337.86 481.92,336.94 482.06,336.01 482.2,335.08 482.34,334.15 482.48,333.24 482.62,332.34 482.76,331.47 482.9,330.64 483.04,329.85 483.18,329.11 483.32,328.43 483.46,327.81 483.6,327.27 483.74,326.8 483.88,326.4 484.02,326.1 484.16,325.87 484.3,325.74 484.44,325.7 484.58,325.75 484.72,325.89 484.86,326.11 485,326.43 485.14,326.82 485.28,327.3 485.42,327.86 485.56,328.48 485.7,329.17 485.83,329.92 485.97,330.72 486.11,331.57 486.25,332.46 486.39,333.38 486.53,334.32 486.67,335.28 486.81,336.26 486.95,337.23 487.09,338.21 487.23,339.17 487.37,340.13 487.51,341.06 487.65,341.97 487.79,342.86 487.93,343.71 488.07,344.53 488.21,345.32 488.35,346.07 488.49,346.78 488.63,347.44 488.77,348.07 488.91,348.66 489.05,349.21 489.19,349.71 489.33,350.18 489.47,350.61 489.61,351.01 489.75,351.37 489.89,351.7 490.03,352 490.17,352.27 490.31,352.51 490.45,352.72 490.59,352.92 490.73,353.09 490.87,353.24 491.01,353.38 491.15,353.5 491.29,353.6 491.43,353.69 491.57,353.77 491.71,353.84 491.85,353.9 491.99,353.95 492.13,353.99 492.27,354.03 492.41,354.06 492.55,354.09 492.69,354.12 492.83,354.14 492.97,354.15 493.11,354.17 493.25,354.18 493.39,354.19 493.53,354.2 493.67,354.21 493.81,354.21 493.95,354.22 494.09,354.22 494.23,354.22 494.37,354.22 494.51,354.23 494.65,354.23 494.79,354.22 494.93,354.22 495.06,354.22 495.2,354.21 495.34,354.21 495.48,354.2 495.62,354.19 495.76,354.18 495.9,354.16 496.04,354.15 496.18,354.13 496.32,354.1 496.46,354.08 496.6,354.04 496.74,354 496.88,353.96 497.02,353.91 497.16,353.86 497.3,353.79 497.44,353.72 497.58,353.64 497.72,353.56 497.86,353.46 498,353.35 498.14,353.24 498.28,353.12 498.42,352.98 498.56,352.84 498.7,352.69 498.84,352.53 498.98,352.37 499.12,352.2 499.26,352.02 499.4,351.84 499.54,351.66 499.68,351.49 499.82,351.31 499.96,351.14 500.1,350.97 500.24,350.82 500.38,350.68 500.52,350.55 500.66,350.45 500.8,350.36 500.94,350.31 501.08,350.28 501.22,350.29 501.36,350.35 501.5,350.43 501.64,350.53 501.78,350.65 501.92,350.79 502.06,350.94 502.2,351.11 502.34,351.28 502.48,351.46 502.62,351.64 502.76,351.83 502.9,352.01 503.04,352.19 503.18,352.37 503.32,352.54 503.46,352.71 503.6,352.87 503.74,353.01 503.88,353.16 504.02,353.29 504.16,353.41 504.3,353.52 504.43,353.63 504.57,353.72 504.71,353.81 504.85,353.89 504.99,353.96 505.13,354.02 505.27,354.08 505.41,354.13 505.55,354.18 505.69,354.21 505.83,354.25 505.97,354.28 506.11,354.31 506.25,354.33 506.39,354.35 506.53,354.37 506.67,354.38 506.81,354.4 506.95,354.41 507.09,354.42 507.23,354.43 507.37,354.43 507.51,354.44 507.65,354.45 507.79,354.45 507.93,354.46 508.07,354.46 508.21,354.46 508.35,354.47 508.49,354.47 508.63,354.47 508.77,354.48 508.91,354.48 509.05,354.48 509.19,354.49 509.33,354.49 509.47,354.49 509.61,354.49 509.75,354.5 509.89,354.5 510.03,354.5 510.17,354.5 510.31,354.51 510.45,354.51 510.59,354.51 510.73,354.51 510.87,354.51 511.01,354.52 511.15,354.52 511.29,354.52 511.43,354.52 511.57,354.53 511.71,354.53 511.85,354.53 511.99,354.53 512.13,354.54 512.27,354.54 512.41,354.54 512.55,354.54 512.69,354.54 512.83,354.55 512.97,354.55 513.11,354.55 513.25,354.55 513.39,354.56 513.53,354.56 513.67,354.56 513.8,354.56 513.94,354.57 514.08,354.57 514.22,354.57 514.36,354.57 514.5,354.58 514.64,354.58 514.78,354.58 514.92,354.58 515.06,354.58 515.2,354.59 515.34,354.59 515.48,354.59 515.62,354.59 515.76,354.59 515.9,354.6 516.04,354.6 516.18,354.6 516.32,354.6 516.46,354.6 516.6,354.61 516.74,354.61 516.88,354.61 517.02,354.61 517.16,354.61 517.3,354.62 517.44,354.62 517.58,354.62 517.72,354.62 517.86,354.62 518,354.63 518.14,354.63 518.28,354.63 518.42,354.63 518.56,354.63 518.7,354.64 518.84,354.64 518.98,354.64 519.12,354.64 519.26,354.64 519.4,354.65 519.54,354.65 519.68,354.65 519.82,354.65 519.96,354.65 520.1,354.66 520.24,354.66 520.38,354.66 520.52,354.66 520.66,354.66 520.8,354.67 520.94,354.67 521.08,354.67 521.22,354.67 521.36,354.67 521.5,354.68 521.64,354.68 521.78,354.68 521.92,354.68 522.06,354.68 522.2,354.69 522.34,354.69 522.48,354.69 522.62,354.69 522.76,354.7 522.9,354.7 523.03,354.7 523.17,354.7 523.31,354.7 523.45,354.71 523.59,354.71 523.73,354.71 523.87,354.71 524.01,354.71 524.15,354.72 524.29,354.72 524.43,354.72 524.57,354.72 524.71,354.72 524.85,354.73 524.99,354.73 525.13,354.73 525.27,354.73 525.41,354.73 525.55,354.74 525.69,354.74 525.83,354.74 525.97,354.74 526.11,354.74 526.25,354.75 526.39,354.75 526.53,354.75 526.67,354.75 526.81,354.75 526.95,354.76 527.09,354.76 527.23,354.76 527.37,354.76 527.51,354.76 527.65,354.77 527.79,354.77 527.93,354.77 528.07,354.77 528.21,354.77 528.35,354.78 528.49,354.78 528.63,354.78 528.77,354.78 528.91,354.78 529.05,354.79 529.19,354.79 529.33,354.79 529.47,354.79 529.61,354.79 529.75,354.8 529.89,354.8 530.03,354.8 530.17,354.8 530.31,354.8 530.45,354.81 530.59,354.81 530.73,354.81 530.87,354.81 531.01,354.81 531.15,354.82 531.29,354.82 531.43,354.82 531.57,354.82 531.71,354.82 531.85,354.83 531.99,354.83 532.13,354.83 532.27,354.83 532.4,354.83 532.54,354.84 532.68,354.84 532.82,354.84 532.96,354.84 533.1,354.85 533.24,354.85 533.38,354.85 533.52,354.85 533.66,354.85 533.8,354.86 533.94,354.86 534.08,354.86 534.22,354.86 534.36,354.86 534.5,354.87 534.64,354.87 534.78,354.87 534.92,354.87 535.06,354.87 535.2,354.88 535.34,354.88 535.48,354.88 535.62,354.88 535.76,354.88 535.9,354.89 536.04,354.89 536.18,354.89 536.32,354.89 536.46,354.89 536.6,354.9 536.74,354.9 536.88,354.9 537.02,354.9 L537.02,357.66 Z" fill="#ade0e2" stroke="none"/>
<path d="M89.5,356.04 89.64,356.03 89.78,356.03 89.92,356.03 90.06,356.03 90.2,356.02 90.34,356.02 90.48,356.02 90.62,356.02 90.76,356.01 90.9,356.01 91.04,356.01 91.18,356.01 91.32,356 91.46,356 91.6,356 91.74,355.99 91.88,355.99 92.02,355.99 92.16,355.99 92.3,355.98 92.44,355.98 92.58,355.98 92.72,355.98 92.86,355.97 93,355.97 93.14,355.97 93.28,355.96 93.42,355.96 93.56,355.96 93.7,355.96 93.84,355.95 93.98,355.95 94.12,355.95 94.25,355.95 94.39,355.94 94.53,355.94 94.67,355.94 94.81,355.93 94.95,355.93 95.09,355.93 95.23,355.93 95.37,355.92 95.51,355.92 95.65,355.92 95.79,355.92 95.93,355.91 96.07,355.91 96.21,355.91 96.35,355.91 96.49,355.9 96.63,355.9 96.77,355.9 96.91,355.89 97.05,355.89 97.19,355.89 97.33,355.89 97.47,355.88 97.61,355.88 97.75,355.88 97.89,355.87 98.03,355.87 98.17,355.86 98.31,355.86 98.45,355.85 98.59,355.85 98.73,355.84 98.87,355.84 99.01,355.83 99.15,355.82 99.29,355.81 99.43,355.8 99.57,355.78 99.71,355.77 99.85,355.75 99.99,355.72 100.13,355.69 100.27,355.66 100.41,355.62 100.55,355.57 100.69,355.51 100.83,355.45 100.97,355.37 101.11,355.28 101.25,355.18 101.39,355.06 101.53,354.93 101.67,354.79 101.81,354.64 101.95,354.48 102.09,354.31 102.23,354.14 102.37,353.99 102.51,353.85 102.65,353.77 102.79,353.81 102.93,353.91 103.07,354.02 103.21,354.14 103.35,354.26 103.48,354.37 103.62,354.47 103.76,354.55 103.9,354.62 104.04,354.66 104.18,354.68 104.32,354.68 104.46,354.65 104.6,354.6 104.74,354.53 104.88,354.43 105.02,354.3 105.16,354.15 105.3,353.96 105.44,353.74 105.58,353.49 105.72,353.21 105.86,352.88 106,352.5 106.14,352.08 106.28,351.6 106.42,351.07 106.56,350.47 106.7,349.8 106.84,349.06 106.98,348.22 107.12,347.3 107.26,346.27 107.4,345.14 107.54,343.88 107.68,342.5 107.82,340.98 107.96,339.32 108.1,337.51 108.24,335.54 108.38,333.4 108.52,331.09 108.66,328.61 108.8,325.95 108.94,323.12 109.08,320.13 109.22,316.99 109.36,313.72 109.5,310.35 109.64,306.94 109.78,303.54 109.92,300.27 110.06,297.31 110.2,295.2 110.34,297.31 110.48,300.27 110.62,303.54 110.76,306.94 110.9,310.35 111.04,313.72 111.18,316.99 111.32,320.13 111.46,323.12 111.6,325.95 111.74,328.61 111.88,331.09 112.02,333.4 112.16,335.54 112.3,337.51 112.44,339.32 112.58,340.98 112.72,342.5 112.85,343.88 112.99,345.14 113.13,346.27 113.27,347.3 113.41,348.23 113.55,349.06 113.69,349.81 113.83,350.48 113.97,351.08 114.11,351.62 114.25,352.09 114.39,352.52 114.53,352.9 114.67,353.23 114.81,353.53 114.95,353.79 115.09,354.02 115.23,354.22 115.37,354.4 115.51,354.56 115.65,354.7 115.79,354.82 115.93,354.93 116.07,355.02 116.21,355.1 116.35,355.17 116.49,355.23 116.63,355.29 116.77,355.34 116.91,355.38 117.05,355.41 117.19,355.44 117.33,355.47 117.47,355.49 117.61,355.51 117.75,355.52 117.89,355.53 118.03,355.54 118.17,355.54 118.31,355.55 118.45,355.55 118.59,355.55 118.73,355.55 118.87,355.54 119.01,355.54 119.15,355.53 119.29,355.51 119.43,355.5 119.57,355.48 119.71,355.45 119.85,355.42 119.99,355.37 120.13,355.32 120.27,355.26 120.41,355.17 120.55,355.07 120.69,354.95 120.83,354.8 120.97,354.61 121.11,354.39 121.25,354.12 121.39,353.79 121.53,353.4 121.67,352.93 121.81,352.37 121.95,351.71 122.09,350.94 122.22,350.04 122.36,348.99 122.5,347.78 122.64,346.39 122.78,344.79 122.92,342.97 123.06,340.92 123.2,338.6 123.34,336.01 123.48,333.12 123.62,329.92 123.76,326.41 123.9,322.56 124.04,318.37 124.18,313.84 124.32,308.98 124.46,303.79 124.6,298.28 124.74,292.48 124.88,286.41 125.02,280.11 125.16,273.6 125.3,266.95 125.44,260.2 125.58,253.41 125.72,246.64 125.86,239.95 126,233.42 126.14,227.11 126.28,221.1 126.42,215.46 126.56,210.25 126.7,205.54 126.84,201.39 126.98,197.86 127.12,194.99 127.26,192.82 127.4,191.39 127.54,190.7 127.68,190.77 127.82,191.6 127.96,193.17 128.1,195.46 128.24,198.43 128.38,202.01 128.52,206.11 128.66,210.62 128.8,215.37 128.94,220.17 129.08,224.81 129.22,229.07 129.36,232.81 129.5,235.96 129.64,238.53 129.78,240.66 129.92,242.55 130.06,244.44 130.2,246.56 130.34,249.08 130.48,252.1 130.62,255.62 130.76,259.57 130.9,263.81 131.04,268.17 131.18,272.46 131.32,276.49 131.45,280.29 131.59,284.06 131.73,287.98 131.87,292.23 132.01,296.91 132.15,302.09 132.29,307.7 132.43,313.63 132.57,319.65 132.71,325.49 132.85,330.88 132.99,335.58 133.13,339.42 133.27,342.35 133.41,344.4 133.55,345.68 133.69,346.34 133.83,346.52 133.97,346.36 134.11,345.96 134.25,345.39 134.39,344.69 134.53,343.9 134.67,343.02 134.81,342.07 134.95,341.05 135.09,339.98 135.23,338.87 135.37,337.73 135.51,336.56 135.65,335.4 135.79,334.24 135.93,333.11 136.07,332.02 136.21,331 136.35,330.08 136.49,329.28 136.63,328.66 136.77,328.29 136.91,328.48 137.05,328.92 137.19,329.52 137.33,330.23 137.47,331.02 137.61,331.85 137.75,332.71 137.89,333.56 138.03,334.41 138.17,335.23 138.31,336.01 138.45,336.74 138.59,337.43 138.73,338.06 138.87,338.64 139.01,339.16 139.15,339.62 139.29,340.03 139.43,340.36 139.57,340.63 139.71,340.82 139.85,340.92 139.99,340.93 140.13,340.84 140.27,340.65 140.41,340.4 140.55,340.1 140.69,339.86 140.82,339.89 140.96,340.48 141.1,341.2 141.24,341.92 141.38,342.58 141.52,343.13 141.66,343.57 141.8,343.87 141.94,344.04 142.08,344.07 142.22,343.96 142.36,343.72 142.5,343.34 142.64,342.84 142.78,342.24 142.92,341.61 143.06,341.05 143.2,340.79 143.34,341.47 143.48,342.46 143.62,343.53 143.76,344.58 143.9,345.56 144.04,346.45 144.18,347.25 144.32,347.97 144.46,348.62 144.6,349.2 144.74,349.74 144.88,350.24 145.02,350.71 145.16,351.14 145.3,351.54 145.44,351.91 145.58,352.25 145.72,352.55 145.86,352.82 146,353.05 146.14,353.25 146.28,353.4 146.42,353.53 146.56,353.62 146.7,353.67 146.84,353.7 146.98,353.71 147.12,353.69 147.26,353.64 147.4,353.58 147.54,353.5 147.68,353.4 147.82,353.29 147.96,353.16 148.1,353.02 148.24,352.86 148.38,352.68 148.52,352.49 148.66,352.28 148.8,352.04 148.94,351.79 149.08,351.52 149.22,351.22 149.36,350.9 149.5,350.55 149.64,350.17 149.78,349.75 149.92,349.3 150.06,348.81 150.19,348.28 150.33,347.71 150.47,347.09 150.61,346.42 150.75,345.69 150.89,344.9 151.03,344.05 151.17,343.13 151.31,342.14 151.45,341.07 151.59,339.92 151.73,338.67 151.87,337.34 152.01,335.9 152.15,334.35 152.29,332.69 152.43,330.91 152.57,329.01 152.71,326.98 152.85,324.81 152.99,322.5 153.13,320.05 153.27,317.46 153.41,314.73 153.55,311.87 153.69,308.91 153.83,305.89 153.97,302.99 154.11,304.7 154.25,307.7 154.39,310.69 154.53,313.6 154.67,316.38 154.81,319.02 154.95,321.53 155.09,323.89 155.23,326.11 155.37,328.19 155.51,330.14 155.65,331.97 155.79,333.67 155.93,335.25 156.07,336.73 156.21,338.09 156.35,339.37 156.49,340.54 156.63,341.64 156.77,342.64 156.91,343.58 157.05,344.44 157.19,345.23 157.33,345.96 157.47,346.62 157.61,347.24 157.75,347.8 157.89,348.31 158.03,348.77 158.17,349.19 158.31,349.57 158.45,349.91 158.59,350.22 158.73,350.48 158.87,350.72 159.01,350.92 159.15,351.09 159.29,351.22 159.42,351.33 159.56,351.41 159.7,351.46 159.84,351.48 159.98,351.48 160.12,351.44 160.26,351.38 160.4,351.29 160.54,351.17 160.68,351.01 160.82,350.83 160.96,350.62 161.1,350.37 161.24,350.09 161.38,349.77 161.52,349.42 161.66,349.03 161.8,348.61 161.94,348.14 162.08,347.64 162.22,347.09 162.36,346.51 162.5,345.88 162.64,345.21 162.78,344.5 162.92,343.75 163.06,342.97 163.2,342.15 163.34,341.29 163.48,340.41 163.62,339.51 163.76,338.6 163.9,337.69 164.04,336.8 164.18,335.95 164.32,335.2 164.46,334.67 164.6,335.22 164.74,335.99 164.88,336.86 165.02,337.77 165.16,338.7 165.3,339.63 165.44,340.55 165.58,341.46 165.72,342.34 165.86,343.19 166,344 166.14,344.78 166.28,345.52 166.42,346.22 166.56,346.89 166.7,347.51 166.84,348.1 166.98,348.65 167.12,349.16 167.26,349.64 167.4,350.09 167.54,350.5 167.68,350.89 167.82,351.24 167.96,351.57 168.1,351.88 168.24,352.15 168.38,352.41 168.52,352.65 168.66,352.86 168.79,353.06 168.93,353.24 169.07,353.4 169.21,353.55 169.35,353.68 169.49,353.8 169.63,353.91 169.77,354.01 169.91,354.1 170.05,354.17 170.19,354.24 170.33,354.29 170.47,354.34 170.61,354.38 170.75,354.4 170.89,354.41 171.03,354.41 171.17,354.41 171.31,354.39 171.45,354.37 171.59,354.33 171.73,354.29 171.87,354.24 172.01,354.18 172.15,354.11 172.29,354.03 172.43,353.94 172.57,353.85 172.71,353.74 172.85,353.63 172.99,353.51 173.13,353.39 173.27,353.27 173.41,353.15 173.55,353.04 173.69,352.93 173.83,352.84 173.97,352.79 174.11,352.83 174.25,352.91 174.39,353 174.53,353.1 174.67,353.21 174.81,353.32 174.95,353.43 175.09,353.54 175.23,353.64 175.37,353.73 175.51,353.82 175.65,353.91 175.79,353.98 175.93,354.05 176.07,354.11 176.21,354.16 176.35,354.21 176.49,354.25 176.63,354.28 176.77,354.31 176.91,354.34 177.05,354.35 177.19,354.37 177.33,354.38 177.47,354.39 177.61,354.4 177.75,354.4 177.89,354.4 178.03,354.4 178.16,354.4 178.3,354.39 178.44,354.39 178.58,354.38 178.72,354.38 178.86,354.37 179,354.36 179.14,354.35 179.28,354.34 179.42,354.33 179.56,354.32 179.7,354.31 179.84,354.3 179.98,354.29 180.12,354.28 180.26,354.27 180.4,354.25 180.54,354.24 180.68,354.22 180.82,354.21 180.96,354.19 181.1,354.18 181.24,354.16 181.38,354.14 181.52,354.12 181.66,354.1 181.8,354.08 181.94,354.05 182.08,354.03 182.22,354 182.36,353.97 182.5,353.94 182.64,353.9 182.78,353.86 182.92,353.82 183.06,353.77 183.2,353.72 183.34,353.66 183.48,353.59 183.62,353.52 183.76,353.44 183.9,353.35 184.04,353.26 184.18,353.16 184.32,353.04 184.46,352.92 184.6,352.79 184.74,352.65 184.88,352.5 185.02,352.34 185.16,352.16 185.3,351.98 185.44,351.78 185.58,351.58 185.72,351.36 185.86,351.14 186,350.91 186.14,350.68 186.28,350.44 186.42,350.2 186.56,349.96 186.7,349.73 186.84,349.51 186.98,349.31 187.12,349.13 187.26,348.98 187.39,348.9 187.53,348.97 187.67,349.1 187.81,349.26 187.95,349.45 188.09,349.66 188.23,349.87 188.37,350.1 188.51,350.32 188.65,350.54 188.79,350.76 188.93,350.98 189.07,351.18 189.21,351.38 189.35,351.57 189.49,351.75 189.63,351.92 189.77,352.08 189.91,352.23 190.05,352.36 190.19,352.49 190.33,352.61 190.47,352.71 190.61,352.81 190.75,352.9 190.89,352.98 191.03,353.05 191.17,353.11 191.31,353.17 191.45,353.22 191.59,353.26 191.73,353.3 191.87,353.34 192.01,353.36 192.15,353.39 192.29,353.41 192.43,353.43 192.57,353.44 192.71,353.46 192.85,353.47 192.99,353.47 193.13,353.48 193.27,353.48 193.41,353.49 193.55,353.49 193.69,353.49 193.83,353.49 193.97,353.48 194.11,353.48 194.25,353.48 194.39,353.47 194.53,353.47 194.67,353.46 194.81,353.46 194.95,353.45 195.09,353.45 195.23,353.44 195.37,353.44 195.51,353.43 195.65,353.42 195.79,353.42 195.93,353.41 196.07,353.4 196.21,353.39 196.35,353.39 196.49,353.38 196.63,353.37 196.76,353.36 196.9,353.36 197.04,353.35 197.18,353.34 197.32,353.34 197.46,353.33 197.6,353.32 197.74,353.31 197.88,353.31 198.02,353.3 198.16,353.29 198.3,353.28 198.44,353.28 198.58,353.27 198.72,353.26 198.86,353.25 199,353.25 199.14,353.24 199.28,353.23 199.42,353.22 199.56,353.22 199.7,353.21 199.84,353.2 199.98,353.19 200.12,353.19 200.26,353.18 200.4,353.17 200.54,353.16 200.68,353.15 200.82,353.15 200.96,353.14 201.1,353.13 201.24,353.12 201.38,353.12 201.52,353.11 201.66,353.11 201.8,353.11 201.94,353.11 202.08,353.11 202.22,353.1 202.36,353.1 202.5,353.1 202.64,353.1 202.78,353.09 202.92,353.09 203.06,353.09 203.2,353.09 203.34,353.08 203.48,353.08 203.62,353.08 203.76,353.08 203.9,353.07 204.04,353.07 204.18,353.07 204.32,353.07 204.46,353.06 204.6,353.06 204.74,353.06 204.88,353.06 205.02,353.05 205.16,353.05 205.3,353.05 205.44,353.05 205.58,353.04 205.72,353.04 205.86,353.04 206,353.04 206.13,353.03 206.27,353.03 206.41,353.03 206.55,353.03 206.69,353.02 206.83,353.02 206.97,353.02 207.11,353.02 207.25,353.02 207.39,353.01 207.53,353.01 207.67,353.01 207.81,353.01 207.95,353 208.09,353 208.23,353 208.37,353 208.51,352.99 208.65,352.99 208.79,352.99 208.93,352.99 209.07,352.98 209.21,352.98 209.35,352.98 209.49,352.98 209.63,352.97 209.77,352.97 209.91,352.97 210.05,352.97 210.19,352.96 210.33,352.96 210.47,352.96 210.61,352.96 210.75,352.95 210.89,352.95 211.03,352.95 211.17,352.95 211.31,352.94 211.45,352.94 211.59,352.94 211.73,352.94 211.87,352.93 212.01,352.93 212.15,352.93 212.29,352.93 212.43,352.93 212.57,352.92 212.71,352.92 212.85,352.92 212.99,352.92 213.13,352.91 213.27,352.91 213.41,352.91 213.55,352.91 213.69,352.9 213.83,352.9 213.97,352.9 214.11,352.9 214.25,352.89 214.39,352.89 214.53,352.89 214.67,352.89 214.81,352.88 214.95,352.88 215.09,352.88 215.23,352.88 215.36,352.87 215.5,352.87 215.64,352.87 215.78,352.87 215.92,352.86 216.06,352.86 216.2,352.86 216.34,352.85 216.48,352.85 216.62,352.85 216.76,352.85 216.9,352.84 217.04,352.84 217.18,352.84 217.32,352.83 217.46,352.83 217.6,352.83 217.74,352.82 217.88,352.82 218.02,352.81 218.16,352.81 218.3,352.81 218.44,352.8 218.58,352.8 218.72,352.79 218.86,352.78 219,352.78 219.14,352.77 219.28,352.76 219.42,352.75 219.56,352.74 219.7,352.73 219.84,352.72 219.98,352.7 220.12,352.69 220.26,352.67 220.4,352.65 220.54,352.63 220.68,352.61 220.82,352.58 220.96,352.56 221.1,352.52 221.24,352.49 221.38,352.45 221.52,352.41 221.66,352.37 221.8,352.32 221.94,352.26 222.08,352.21 222.22,352.14 222.36,352.07 222.5,351.99 222.64,351.91 222.78,351.82 222.92,351.73 223.06,351.62 223.2,351.51 223.34,351.39 223.48,351.26 223.62,351.13 223.76,350.98 223.9,350.83 224.04,350.67 224.18,350.5 224.32,350.33 224.46,350.15 224.6,349.96 224.73,349.77 224.87,349.57 225.01,349.37 225.15,349.17 225.29,348.98 225.43,348.78 225.57,348.59 225.71,348.42 225.85,348.25 225.99,348.11 226.13,347.99 226.27,347.93 226.41,347.98 226.55,348.09 226.69,348.22 226.83,348.37 226.97,348.54 227.11,348.71 227.25,348.89 227.39,349.08 227.53,349.27 227.67,349.45 227.81,349.63 227.95,349.81 228.09,349.98 228.23,350.15 228.37,350.31 228.51,350.46 228.65,350.6 228.79,350.73 228.93,350.86 229.07,350.97 229.21,351.08 229.35,351.17 229.49,351.26 229.63,351.34 229.77,351.41 229.91,351.47 230.05,351.52 230.19,351.57 230.33,351.6 230.47,351.63 230.61,351.65 230.75,351.66 230.89,351.67 231.03,351.66 231.17,351.65 231.31,351.63 231.45,351.61 231.59,351.57 231.73,351.53 231.87,351.48 232.01,351.42 232.15,351.36 232.29,351.28 232.43,351.2 232.57,351.11 232.71,351.01 232.85,350.9 232.99,350.78 233.13,350.65 233.27,350.51 233.41,350.36 233.55,350.19 233.69,350.01 233.83,349.82 233.97,349.62 234.1,349.4 234.24,349.16 234.38,348.9 234.52,348.63 234.66,348.34 234.8,348.03 234.94,347.7 235.08,347.35 235.22,346.97 235.36,346.57 235.5,346.14 235.64,345.68 235.78,345.19 235.92,344.67 236.06,344.13 236.2,343.54 236.34,342.92 236.48,342.26 236.62,341.57 236.76,340.83 236.9,340.05 237.04,339.23 237.18,338.36 237.32,337.44 237.46,336.47 237.6,335.45 237.74,334.38 237.88,333.25 238.02,332.07 238.16,330.84 238.3,329.54 238.44,328.19 238.58,326.79 238.72,325.32 238.86,323.81 239,322.24 239.14,320.62 239.28,318.97 239.42,317.27 239.56,315.55 239.7,313.82 239.84,312.1 239.98,310.43 240.12,308.86 240.26,307.61 240.4,308.86 240.54,310.43 240.68,312.1 240.82,313.82 240.96,315.55 241.1,317.27 241.24,318.96 241.38,320.62 241.52,322.23 241.66,323.8 241.8,325.31 241.94,326.78 242.08,328.18 242.22,329.53 242.36,330.82 242.5,332.06 242.64,333.23 242.78,334.36 242.92,335.43 243.06,336.44 243.2,337.41 243.33,338.32 243.47,339.19 243.61,340.01 243.75,340.79 243.89,341.52 244.03,342.21 244.17,342.86 244.31,343.48 244.45,344.05 244.59,344.6 244.73,345.11 244.87,345.58 245.01,346.03 245.15,346.45 245.29,346.84 245.43,347.21 245.57,347.55 245.71,347.87 245.85,348.16 245.99,348.44 246.13,348.69 246.27,348.92 246.41,349.14 246.55,349.33 246.69,349.52 246.83,349.68 246.97,349.83 247.11,349.96 247.25,350.08 247.39,350.18 247.53,350.27 247.67,350.35 247.81,350.41 247.95,350.46 248.09,350.5 248.23,350.53 248.37,350.54 248.51,350.54 248.65,350.53 248.79,350.5 248.93,350.46 249.07,350.41 249.21,350.35 249.35,350.27 249.49,350.18 249.63,350.07 249.77,349.95 249.91,349.82 250.05,349.66 250.19,349.5 250.33,349.31 250.47,349.11 250.61,348.89 250.75,348.65 250.89,348.39 251.03,348.11 251.17,347.81 251.31,347.49 251.45,347.15 251.59,346.78 251.73,346.39 251.87,345.98 252.01,345.54 252.15,345.07 252.29,344.58 252.43,344.06 252.57,343.51 252.7,342.94 252.84,342.34 252.98,341.72 253.12,341.07 253.26,340.39 253.4,339.69 253.54,338.96 253.68,338.22 253.82,337.46 253.96,336.68 254.1,335.89 254.24,335.1 254.38,334.32 254.52,333.55 254.66,332.8 254.8,332.1 254.94,331.49 255.08,331.05 255.22,331.49 255.36,332.11 255.5,332.81 255.64,333.56 255.78,334.33 255.92,335.12 256.06,335.92 256.2,336.7 256.34,337.48 256.48,338.25 256.62,339 256.76,339.73 256.9,340.43 257.04,341.11 257.18,341.77 257.32,342.4 257.46,343 257.6,343.58 257.74,344.13 257.88,344.65 258.02,345.15 258.16,345.62 258.3,346.07 258.44,346.49 258.58,346.89 258.72,347.26 258.86,347.62 259,347.95 259.14,348.26 259.28,348.55 259.42,348.82 259.56,349.07 259.7,349.3 259.84,349.52 259.98,349.72 260.12,349.9 260.26,350.07 260.4,350.22 260.54,350.36 260.68,350.49 260.82,350.6 260.96,350.7 261.1,350.79 261.24,350.87 261.38,350.94 261.52,350.99 261.66,351.03 261.8,351.07 261.94,351.09 262.07,351.1 262.21,351.1 262.35,351.09 262.49,351.07 262.63,351.04 262.77,350.99 262.91,350.94 263.05,350.87 263.19,350.8 263.33,350.71 263.47,350.6 263.61,350.49 263.75,350.36 263.89,350.21 264.03,350.05 264.17,349.87 264.31,349.68 264.45,349.47 264.59,349.24 264.73,348.99 264.87,348.72 265.01,348.42 265.15,348.11 265.29,347.77 265.43,347.4 265.57,347.01 265.71,346.59 265.85,346.14 265.99,345.66 266.13,345.14 266.27,344.6 266.41,344.01 266.55,343.39 266.69,342.74 266.83,342.04 266.97,341.3 267.11,340.52 267.25,339.7 267.39,338.84 267.53,337.92 267.67,336.97 267.81,335.97 267.95,334.92 268.09,333.83 268.23,332.69 268.37,331.51 268.51,330.29 268.65,329.03 268.79,327.74 268.93,326.42 269.07,325.07 269.21,323.71 269.35,322.34 269.49,320.98 269.63,319.64 269.77,318.35 269.91,317.14 270.05,316.07 270.19,315.32 270.33,316.06 270.47,317.13 270.61,318.34 270.75,319.63 270.89,320.97 271.03,322.33 271.17,323.69 271.3,325.05 271.44,326.4 271.58,327.72 271.72,329.01 271.86,330.27 272,331.49 272.14,332.66 272.28,333.8 272.42,334.89 272.56,335.94 272.7,336.94 272.84,337.89 272.98,338.8 273.12,339.67 273.26,340.49 273.4,341.26 273.54,342 273.68,342.7 273.82,343.35 273.96,343.97 274.1,344.55 274.24,345.1 274.38,345.61 274.52,346.09 274.66,346.54 274.8,346.96 274.94,347.35 275.08,347.71 275.22,348.05 275.36,348.36 275.5,348.65 275.64,348.92 275.78,349.17 275.92,349.39 276.06,349.6 276.2,349.78 276.34,349.95 276.48,350.1 276.62,350.24 276.76,350.35 276.9,350.46 277.04,350.54 277.18,350.61 277.32,350.67 277.46,350.7 277.6,350.73 277.74,350.73 277.88,350.73 278.02,350.7 278.16,350.66 278.3,350.6 278.44,350.52 278.58,350.42 278.72,350.3 278.86,350.16 279,350 279.14,349.82 279.28,349.6 279.42,349.37 279.56,349.1 279.7,348.8 279.84,348.47 279.98,348.11 280.12,347.71 280.26,347.27 280.4,346.79 280.54,346.26 280.67,345.69 280.81,345.07 280.95,344.4 281.09,343.67 281.23,342.89 281.37,342.04 281.51,341.14 281.65,340.16 281.79,339.12 281.93,338.01 282.07,336.83 282.21,335.58 282.35,334.24 282.49,332.84 282.63,331.35 282.77,329.78 282.91,328.14 283.05,326.42 283.19,324.63 283.33,322.76 283.47,320.82 283.61,318.82 283.75,316.76 283.89,314.64 284.03,312.48 284.17,310.28 284.31,308.06 284.45,305.83 284.59,303.61 284.73,301.41 284.87,299.25 285.01,297.15 285.15,295.15 285.29,293.28 285.43,291.59 285.57,290.11 285.71,288.95 285.85,288.3 285.99,288.94 286.13,290.1 286.27,291.57 286.41,293.26 286.55,295.13 286.69,297.12 286.83,299.21 286.97,301.37 287.11,303.56 287.25,305.78 287.39,308 287.53,310.22 287.67,312.4 287.81,314.55 287.95,316.66 288.09,318.71 288.23,320.69 288.37,322.61 288.51,324.46 288.65,326.23 288.79,327.93 288.93,329.54 289.07,331.07 289.21,332.52 289.35,333.88 289.49,335.16 289.63,336.36 289.77,337.48 289.91,338.52 290.04,339.48 290.18,340.37 290.32,341.18 290.46,341.91 290.6,342.58 290.74,343.18 290.88,343.71 291.02,344.18 291.16,344.58 291.3,344.93 291.44,345.22 291.58,345.46 291.72,345.64 291.86,345.78 292,345.88 292.14,345.94 292.28,345.96 292.42,345.96 292.56,345.92 292.7,345.87 292.84,345.8 292.98,345.72 293.12,345.64 293.26,345.56 293.4,345.5 293.54,345.47 293.68,345.49 293.82,345.63 293.96,345.82 294.1,346.05 294.24,346.29 294.38,346.54 294.52,346.8 294.66,347.07 294.8,347.33 294.94,347.58 295.08,347.82 295.22,348.04 295.36,348.25 295.5,348.44 295.64,348.61 295.78,348.76 295.92,348.88 296.06,348.98 296.2,349.06 296.34,349.1 296.48,349.13 296.62,349.12 296.76,349.09 296.9,349.03 297.04,348.94 297.18,348.82 297.32,348.68 297.46,348.5 297.6,348.3 297.74,348.07 297.88,347.81 298.02,347.51 298.16,347.19 298.3,346.84 298.44,346.46 298.58,346.04 298.72,345.6 298.86,345.12 299,344.61 299.14,344.06 299.27,343.49 299.41,342.88 299.55,342.24 299.69,341.57 299.83,340.86 299.97,340.13 300.11,339.37 300.25,338.59 300.39,337.78 300.53,336.95 300.67,336.1 300.81,335.24 300.95,334.38 301.09,333.52 301.23,332.66 301.37,331.83 301.51,331.03 301.65,330.27 301.79,329.59 301.93,329.02 302.07,328.66 302.21,329 302.35,329.55 302.49,330.21 302.63,330.95 302.77,331.73 302.91,332.54 303.05,333.37 303.19,334.21 303.33,335.05 303.47,335.88 303.61,336.7 303.75,337.49 303.89,338.27 304.03,339.02 304.17,339.74 304.31,340.43 304.45,341.09 304.59,341.71 304.73,342.3 304.87,342.85 305.01,343.37 305.15,343.85 305.29,344.29 305.43,344.69 305.57,345.06 305.71,345.39 305.85,345.68 305.99,345.94 306.13,346.16 306.27,346.35 306.41,346.5 306.55,346.61 306.69,346.69 306.83,346.74 306.97,346.75 307.11,346.72 307.25,346.67 307.39,346.58 307.53,346.45 307.67,346.3 307.81,346.11 307.95,345.89 308.09,345.65 308.23,345.37 308.37,345.07 308.51,344.74 308.64,344.38 308.78,344 308.92,343.61 309.06,343.19 309.2,342.76 309.34,342.33 309.48,341.89 309.62,341.45 309.76,341.02 309.9,340.63 310.04,340.27 310.18,340.02 310.32,340.12 310.46,340.32 310.6,340.56 310.74,340.83 310.88,341.11 311.02,341.38 311.16,341.65 311.3,341.89 311.44,342.12 311.58,342.33 311.72,342.5 311.86,342.64 312,342.75 312.14,342.81 312.28,342.84 312.42,342.82 312.56,342.75 312.7,342.64 312.84,342.48 312.98,342.26 313.12,342 313.26,341.68 313.4,341.3 313.54,340.86 313.68,340.37 313.82,339.82 313.96,339.2 314.1,338.53 314.24,337.79 314.38,336.99 314.52,336.12 314.66,335.2 314.8,334.2 314.94,333.14 315.08,332.02 315.22,330.83 315.36,329.58 315.5,328.27 315.64,326.89 315.78,325.46 315.92,323.97 316.06,322.43 316.2,320.84 316.34,319.21 316.48,317.55 316.62,315.86 316.76,314.15 316.9,312.44 317.04,310.74 317.18,309.06 317.32,307.42 317.46,305.85 317.6,304.39 317.74,303.07 317.88,301.96 318.01,301.28 318.15,301.97 318.29,303.08 318.43,304.4 318.57,305.88 318.71,307.45 318.85,309.1 318.99,310.79 319.13,312.51 319.27,314.24 319.41,315.96 319.55,317.67 319.69,319.36 319.83,321.01 319.97,322.63 320.11,324.21 320.25,325.73 320.39,327.21 320.53,328.64 320.67,330.01 320.81,331.32 320.95,332.58 321.09,333.78 321.23,334.92 321.37,336.01 321.51,337.04 321.65,338.02 321.79,338.95 321.93,339.82 322.07,340.65 322.21,341.42 322.35,342.15 322.49,342.83 322.63,343.47 322.77,344.07 322.91,344.63 323.05,345.16 323.19,345.64 323.33,346.1 323.47,346.52 323.61,346.91 323.75,347.28 323.89,347.61 324.03,347.92 324.17,348.21 324.31,348.48 324.45,348.72 324.59,348.95 324.73,349.15 324.87,349.34 325.01,349.52 325.15,349.68 325.29,349.83 325.43,349.96 325.57,350.08 325.71,350.19 325.85,350.3 325.99,350.39 326.13,350.47 326.27,350.55 326.41,350.62 326.55,350.68 326.69,350.73 326.83,350.78 326.97,350.83 327.11,350.87 327.24,350.91 327.38,350.94 327.52,350.97 327.66,350.99 327.8,351.02 327.94,351.03 328.08,351.05 328.22,351.07 328.36,351.08 328.5,351.09 328.64,351.1 328.78,351.11 328.92,351.11 329.06,351.12 329.2,351.12 329.34,351.12 329.48,351.13 329.62,351.13 329.76,351.13 329.9,351.13 330.04,351.12 330.18,351.11 330.32,351.09 330.46,351.08 330.6,351.06 330.74,351.04 330.88,351.03 331.02,351.01 331.16,350.99 331.3,350.97 331.44,350.95 331.58,350.93 331.72,350.92 331.86,350.9 332,350.88 332.14,350.86 332.28,350.84 332.42,350.82 332.56,350.8 332.7,350.78 332.84,350.76 332.98,350.74 333.12,350.72 333.26,350.7 333.4,350.68 333.54,350.66 333.68,350.64 333.82,350.62 333.96,350.6 334.1,350.58 334.24,350.56 334.38,350.54 334.52,350.52 334.66,350.5 334.8,350.48 334.94,350.46 335.08,350.44 335.22,350.42 335.36,350.4 335.5,350.38 335.64,350.36 335.78,350.34 335.92,350.32 336.06,350.29 336.2,350.27 336.34,350.25 336.48,350.23 336.61,350.21 336.75,350.18 336.89,350.16 337.03,350.14 337.17,350.11 337.31,350.08 337.45,350.05 337.59,350.02 337.73,349.98 337.87,349.94 338.01,349.9 338.15,349.85 338.29,349.8 338.43,349.74 338.57,349.67 338.71,349.6 338.85,349.52 338.99,349.43 339.13,349.32 339.27,349.21 339.41,349.09 339.55,348.96 339.69,348.82 339.83,348.67 339.97,348.51 340.11,348.34 340.25,348.17 340.39,347.99 340.53,347.81 340.67,347.63 340.81,347.45 340.95,347.28 341.09,347.11 341.23,346.95 341.37,346.8 341.51,346.67 341.65,346.55 341.79,346.45 341.93,346.37 342.07,346.3 342.21,346.26 342.35,346.24 342.49,346.23 342.63,346.24 342.77,346.26 342.91,346.3 343.05,346.34 343.19,346.39 343.33,346.44 343.47,346.49 343.61,346.53 343.75,346.57 343.89,346.59 344.03,346.61 344.17,346.6 344.31,346.57 344.45,346.52 344.59,346.45 344.73,346.35 344.87,346.21 345.01,346.05 345.15,345.85 345.29,345.62 345.43,345.35 345.57,345.04 345.71,344.68 345.85,344.28 345.98,343.83 346.12,343.32 346.26,342.76 346.4,342.13 346.54,341.44 346.68,340.67 346.82,339.83 346.96,338.89 347.1,337.86 347.24,336.72 347.38,335.46 347.52,334.08 347.66,332.55 347.8,330.87 347.94,329.02 348.08,326.98 348.22,324.74 348.36,322.27 348.5,319.55 348.64,316.57 348.78,313.28 348.92,309.67 349.06,305.71 349.2,301.36 349.34,296.58 349.48,291.34 349.62,285.6 349.76,279.35 349.9,272.5 350.04,265.01 350.18,256.82 350.32,247.89 350.46,238.14 350.6,227.52 350.74,215.97 350.88,203.42 351.02,189.79 351.16,175.03 351.3,159.06 351.44,141.81 351.58,123.21 351.72,106 M359.27,106 359.41,123.54 359.55,142.15 359.69,159.41 359.83,175.39 359.97,190.17 360.11,203.8 360.25,216.36 360.39,227.93 360.53,238.56 360.67,248.31 360.81,257.26 360.95,265.46 361.09,272.96 361.23,279.82 361.37,286.09 361.51,291.81 361.65,297.02 361.79,301.78 361.93,306.11 362.07,310.05 362.21,313.64 362.35,316.9 362.49,319.87 362.63,322.56 362.77,325.01 362.91,327.23 363.05,329.25 363.19,331.08 363.33,332.74 363.47,334.25 363.61,335.62 363.75,336.85 363.89,337.98 364.03,338.99 364.17,339.92 364.31,340.75 364.45,341.51 364.58,342.19 364.72,342.82 364.86,343.38 365,343.89 365.14,344.35 365.28,344.77 365.42,345.14 365.56,345.49 365.7,345.79 365.84,346.07 365.98,346.33 366.12,346.55 366.26,346.76 366.4,346.95 366.54,347.11 366.68,347.26 366.82,347.4 366.96,347.52 367.1,347.63 367.24,347.73 367.38,347.81 367.52,347.89 367.66,347.96 367.8,348.02 367.94,348.07 368.08,348.11 368.22,348.15 368.36,348.18 368.5,348.21 368.64,348.23 368.78,348.24 368.92,348.25 369.06,348.25 369.2,348.24 369.34,348.23 369.48,348.22 369.62,348.2 369.76,348.18 369.9,348.15 370.04,348.11 370.18,348.06 370.32,348.01 370.46,347.95 370.6,347.89 370.74,347.82 370.88,347.73 371.02,347.64 371.16,347.54 371.3,347.43 371.44,347.31 371.58,347.18 371.72,347.04 371.86,346.88 372,346.71 372.14,346.53 372.28,346.34 372.42,346.13 372.56,345.91 372.7,345.67 372.84,345.42 372.98,345.15 373.12,344.86 373.26,344.55 373.4,344.23 373.54,343.89 373.68,343.54 373.82,343.16 373.95,342.77 374.09,342.36 374.23,341.94 374.37,341.5 374.51,341.04 374.65,340.56 374.79,340.08 374.93,339.57 375.07,339.06 375.21,338.54 375.35,338.01 375.49,337.47 375.63,336.93 375.77,336.39 375.91,335.85 376.05,335.31 376.19,334.78 376.33,334.27 376.47,333.77 376.61,333.29 376.75,332.84 376.89,332.42 377.03,332.04 377.17,331.71 377.31,331.43 377.45,331.23 377.59,331.13 377.73,331.25 377.87,331.46 378.01,331.76 378.15,332.1 378.29,332.5 378.43,332.93 378.57,333.4 378.71,333.89 378.85,334.41 378.99,334.94 379.13,335.48 379.27,336.03 379.41,336.59 379.55,337.14 379.69,337.7 379.83,338.25 379.97,338.79 380.11,339.33 380.25,339.86 380.39,340.37 380.53,340.87 380.67,341.36 380.81,341.83 380.95,342.28 381.09,342.71 381.23,343.13 381.37,343.53 381.51,343.91 381.65,344.28 381.79,344.62 381.93,344.94 382.07,345.25 382.21,345.54 382.35,345.81 382.49,346.06 382.63,346.29 382.77,346.51 382.91,346.71 383.05,346.89 383.18,347.05 383.32,347.2 383.46,347.33 383.6,347.45 383.74,347.55 383.88,347.64 384.02,347.71 384.16,347.76 384.3,347.8 384.44,347.83 384.58,347.84 384.72,347.84 384.86,347.82 385,347.78 385.14,347.73 385.28,347.67 385.42,347.59 385.56,347.5 385.7,347.39 385.84,347.26 385.98,347.12 386.12,346.96 386.26,346.79 386.4,346.6 386.54,346.39 386.68,346.17 386.82,345.94 386.96,345.68 387.1,345.42 387.24,345.13 387.38,344.84 387.52,344.53 387.66,344.22 387.8,343.89 387.94,343.56 388.08,343.23 388.22,342.9 388.36,342.57 388.5,342.25 388.64,341.95 388.78,341.68 388.92,341.45 389.06,341.31 389.2,341.47 389.34,341.71 389.48,342 389.62,342.32 389.76,342.66 389.9,343 390.04,343.36 390.18,343.71 390.32,344.06 390.46,344.41 390.6,344.74 390.74,345.07 390.88,345.39 391.02,345.7 391.16,345.99 391.3,346.27 391.44,346.53 391.58,346.78 391.72,347.02 391.86,347.24 392,347.45 392.14,347.65 392.28,347.83 392.42,347.99 392.55,348.15 392.69,348.29 392.83,348.41 392.97,348.53 393.11,348.63 393.25,348.72 393.39,348.79 393.53,348.86 393.67,348.91 393.81,348.95 393.95,348.98 394.09,349 394.23,349 394.37,348.99 394.51,348.96 394.65,348.92 394.79,348.87 394.93,348.8 395.07,348.71 395.21,348.61 395.35,348.49 395.49,348.35 395.63,348.19 395.77,348.01 395.91,347.81 396.05,347.59 396.19,347.34 396.33,347.07 396.47,346.78 396.61,346.46 396.75,346.11 396.89,345.74 397.03,345.34 397.17,344.92 397.31,344.47 397.45,343.99 397.59,343.49 397.73,342.97 397.87,342.42 398.01,341.84 398.15,341.24 398.29,340.62 398.43,339.98 398.57,339.32 398.71,338.65 398.85,337.95 398.99,337.25 399.13,336.53 399.27,335.8 399.41,335.06 399.55,334.31 399.69,333.56 399.83,332.79 399.97,332.02 400.11,331.25 400.25,330.46 400.39,329.67 400.53,328.86 400.67,328.04 400.81,327.2 400.95,326.34 401.09,325.45 401.23,324.54 401.37,323.59 401.51,322.6 401.65,321.57 401.79,320.48 401.92,319.34 402.06,318.13 402.2,316.86 402.34,315.52 402.48,314.1 402.62,312.61 402.76,311.05 402.9,309.42 403.04,307.72 403.18,305.96 403.32,304.16 403.46,302.32 403.6,300.46 403.74,298.61 403.88,296.79 404.02,295.03 404.16,293.37 404.3,291.84 404.44,290.52 404.58,289.47 404.72,288.87 404.86,289.21 405,289.98 405.14,291 405.28,292.18 405.42,293.44 405.56,294.71 405.7,295.96 405.84,297.13 405.98,298.17 406.12,299.04 406.26,299.7 406.4,300.12 406.54,300.24 406.68,300.04 406.82,299.48 406.96,298.52 407.1,297.12 407.24,295.24 407.38,292.84 407.52,289.88 407.66,286.31 407.8,282.09 407.94,277.16 408.08,271.47 408.22,264.98 408.36,257.63 408.5,249.35 408.64,240.1 408.78,229.82 408.92,218.46 409.06,205.97 409.2,192.29 409.34,177.38 409.48,161.21 409.62,143.75 409.76,124.98 409.9,106 M417.59,106 417.73,106.54 417.87,126.85 418.01,145.86 418.15,163.58 418.29,180.05 418.43,195.28 418.57,209.31 418.71,222.17 418.85,233.87 418.99,244.41 419.13,253.78 419.27,261.97 419.41,268.96 419.55,274.77 419.69,279.44 419.83,283.05 419.97,285.72 420.11,287.6 420.25,288.86 420.39,289.67 420.52,290.18 420.66,290.53 420.8,290.81 420.94,291.11 421.08,291.48 421.22,291.94 421.36,292.49 421.5,293.13 421.64,293.85 421.78,294.63 421.92,295.45 422.06,296.28 422.2,297.12 422.34,297.94 422.48,298.75 422.62,299.51 422.76,300.25 422.9,300.94 423.04,301.59 423.18,302.2 423.32,302.77 423.46,303.31 423.6,303.82 423.74,304.29 423.88,304.75 424.02,305.18 424.16,305.59 424.3,306 424.44,306.41 424.58,306.83 424.72,307.29 424.86,307.8 425,308.4 425.14,309.1 425.28,309.96 425.42,311 425.56,312.25 425.7,313.77 425.84,315.57 425.98,317.68 426.12,320.1 426.26,322.82 426.4,325.78 426.54,328.94 426.68,332.19 426.82,335.43 426.96,338.53 427.1,341.39 427.24,343.9 427.38,346.01 427.52,347.68 427.66,348.94 427.8,349.84 427.94,350.45 428.08,350.85 428.22,351.11 428.36,351.29 428.5,351.41 428.64,351.51 428.78,351.6 428.92,351.68 429.06,351.75 429.2,351.82 429.34,351.88 429.48,351.93 429.62,351.99 429.76,352.03 429.89,352.07 430.03,352.1 430.17,352.12 430.31,352.13 430.45,352.14 430.59,352.13 430.73,352.11 430.87,352.08 431.01,352.03 431.15,351.97 431.29,351.9 431.43,351.81 431.57,351.71 431.71,351.6 431.85,351.47 431.99,351.33 432.13,351.18 432.27,351.02 432.41,350.86 432.55,350.69 432.69,350.52 432.83,350.36 432.97,350.2 433.11,350.06 433.25,349.92 433.39,349.81 433.53,349.72 433.67,349.63 433.81,349.58 433.95,349.55 434.09,349.55 434.23,349.58 434.37,349.63 434.51,349.71 434.65,349.82 434.79,349.95 434.93,350.1 435.07,350.27 435.21,350.45 435.35,350.65 435.49,350.85 435.63,351.05 435.77,351.26 435.91,351.46 436.05,351.66 436.19,351.85 436.33,352.03 436.47,352.21 436.61,352.37 436.75,352.51 436.89,352.65 437.03,352.77 437.17,352.87 437.31,352.97 437.45,353.05 437.59,353.13 437.73,353.19 437.87,353.24 438.01,353.29 438.15,353.33 438.29,353.36 438.43,353.39 438.57,353.41 438.71,353.43 438.85,353.45 438.99,353.46 439.12,353.48 439.26,353.49 439.4,353.49 439.54,353.5 439.68,353.51 439.82,353.51 439.96,353.52 440.1,353.52 440.24,353.53 440.38,353.53 440.52,353.54 440.66,353.54 440.8,353.54 440.94,353.55 441.08,353.55 441.22,353.55 441.36,353.56 441.5,353.56 441.64,353.56 441.78,353.56 441.92,353.57 442.06,353.57 442.2,353.57 442.34,353.58 442.48,353.58 442.62,353.58 442.76,353.59 442.9,353.59 443.04,353.59 443.18,353.59 443.32,353.6 443.46,353.6 443.6,353.6 443.74,353.6 443.88,353.61 444.02,353.61 444.16,353.61 444.3,353.61 444.44,353.62 444.58,353.62 444.72,353.62 444.86,353.62 445,353.63 445.14,353.63 445.28,353.63 445.42,353.64 445.56,353.64 445.7,353.64 445.84,353.64 445.98,353.64 446.12,353.65 446.26,353.65 446.4,353.65 446.54,353.65 446.68,353.66 446.82,353.66 446.96,353.66 447.1,353.66 447.24,353.67 447.38,353.67 447.52,353.67 447.66,353.67 447.8,353.67 447.94,353.68 448.08,353.68 448.22,353.68 448.36,353.68 448.49,353.68 448.63,353.68 448.77,353.68 448.91,353.68 449.05,353.68 449.19,353.68 449.33,353.67 449.47,353.67 449.61,353.66 449.75,353.65 449.89,353.64 450.03,353.63 450.17,353.61 450.31,353.59 450.45,353.56 450.59,353.53 450.73,353.5 450.87,353.46 451.01,353.41 451.15,353.36 451.29,353.3 451.43,353.23 451.57,353.15 451.71,353.06 451.85,352.96 451.99,352.85 452.13,352.73 452.27,352.6 452.41,352.46 452.55,352.31 452.69,352.14 452.83,351.97 452.97,351.79 453.11,351.6 453.25,351.4 453.39,351.2 453.53,350.99 453.67,350.79 453.81,350.58 453.95,350.37 454.09,350.17 454.23,349.97 454.37,349.78 454.51,349.6 454.65,349.44 454.79,349.29 454.93,349.15 455.07,349.03 455.21,348.93 455.35,348.85 455.49,348.78 455.63,348.74 455.77,348.71 455.91,348.7 456.05,348.7 456.19,348.72 456.33,348.75 456.47,348.79 456.61,348.84 456.75,348.89 456.89,348.94 457.03,349 457.17,349.05 457.31,349.09 457.45,349.13 457.59,349.16 457.73,349.17 457.86,349.18 458,349.18 458.14,349.16 458.28,349.14 458.42,349.11 458.56,349.07 458.7,349.02 458.84,348.98 458.98,348.93 459.12,348.89 459.26,348.85 459.4,348.82 459.54,348.8 459.68,348.8 459.82,348.82 459.96,348.85 460.1,348.9 460.24,348.97 460.38,349.06 460.52,349.18 460.66,349.31 460.8,349.46 460.94,349.63 461.08,349.82 461.22,350.02 461.36,350.23 461.5,350.45 461.64,350.67 461.78,350.9 461.92,351.12 462.06,351.35 462.2,351.57 462.34,351.78 462.48,351.98 462.62,352.18 462.76,352.36 462.9,352.54 463.04,352.7 463.18,352.84 463.32,352.98 463.46,353.1 463.6,353.2 463.74,353.3 463.88,353.38 464.02,353.45 464.16,353.51 464.3,353.56 464.44,353.6 464.58,353.63 464.72,353.65 464.86,353.67 465,353.67 465.14,353.67 465.28,353.66 465.42,353.65 465.56,353.62 465.7,353.58 465.84,353.54 465.98,353.49 466.12,353.42 466.26,353.34 466.4,353.25 466.54,353.14 466.68,353.01 466.82,352.87 466.96,352.7 467.09,352.5 467.23,352.28 467.37,352.02 467.51,351.73 467.65,351.4 467.79,351.02 467.93,350.59 468.07,350.11 468.21,349.57 468.35,348.96 468.49,348.27 468.63,347.51 468.77,346.65 468.91,345.7 469.05,344.65 469.19,343.49 469.33,342.21 469.47,340.8 469.61,339.25 469.75,337.57 469.89,335.73 470.03,333.73 470.17,331.57 470.31,329.24 470.45,326.74 470.59,324.06 470.73,321.21 470.87,318.18 471.01,314.97 471.15,311.6 471.29,308.06 471.43,304.37 471.57,300.55 471.71,296.61 471.85,292.58 471.99,288.47 472.13,284.32 472.27,280.17 472.41,276.05 472.55,272.01 472.69,268.11 472.83,264.4 472.97,260.95 473.11,257.85 473.25,255.19 473.39,253.12 473.53,251.96 473.67,252.63 473.81,254.19 473.95,256.33 474.09,258.9 474.23,261.79 474.37,264.93 474.51,268.23 474.65,271.64 474.79,275.11 474.93,278.59 475.07,282.05 475.21,285.45 475.35,288.79 475.49,292.04 475.63,295.18 475.77,298.22 475.91,301.14 476.05,303.95 476.19,306.66 476.33,309.25 476.46,311.76 476.6,314.16 476.74,316.48 476.88,318.72 477.02,320.88 477.16,322.97 477.3,324.99 477.44,326.93 477.58,328.8 477.72,330.59 477.86,332.31 478,333.93 478.14,335.47 478.28,336.91 478.42,338.25 478.56,339.48 478.7,340.6 478.84,341.6 478.98,342.49 479.12,343.24 479.26,343.88 479.4,344.39 479.54,344.78 479.68,345.04 479.82,345.19 479.96,345.22 480.1,345.14 480.24,344.96 480.38,344.67 480.52,344.3 480.66,343.83 480.8,343.29 480.94,342.68 481.08,341.99 481.22,341.25 481.36,340.46 481.5,339.63 481.64,338.76 481.78,337.86 481.92,336.94 482.06,336.01 482.2,335.08 482.34,334.15 482.48,333.24 482.62,332.34 482.76,331.47 482.9,330.64 483.04,329.85 483.18,329.11 483.32,328.43 483.46,327.81 483.6,327.27 483.74,326.8 483.88,326.4 484.02,326.1 484.16,325.87 484.3,325.74 484.44,325.7 484.58,325.75 484.72,325.89 484.86,326.11 485,326.43 485.14,326.82 485.28,327.3 485.42,327.86 485.56,328.48 485.7,329.17 485.83,329.92 485.97,330.72 486.11,331.57 486.25,332.46 486.39,333.38 486.53,334.32 486.67,335.28 486.81,336.26 486.95,337.23 487.09,338.21 487.23,339.17 487.37,340.13 487.51,341.06 487.65,341.97 487.79,342.86 487.93,343.71 488.07,344.53 488.21,345.32 488.35,346.07 488.49,346.78 488.63,347.44 488.77,348.07 488.91,348.66 489.05,349.21 489.19,349.71 489.33,350.18 489.47,350.61 489.61,351.01 489.75,351.37 489.89,351.7 490.03,352 490.17,352.27 490.31,352.51 490.45,352.72 490.59,352.92 490.73,353.09 490.87,353.24 491.01,353.38 491.15,353.5 491.29,353.6 491.43,353.69 491.57,353.77 491.71,353.84 491.85,353.9 491.99,353.95 492.13,353.99 492.27,354.03 492.41,354.06 492.55,354.09 492.69,354.12 492.83,354.14 492.97,354.15 493.11,354.17 493.25,354.18 493.39,354.19 493.53,354.2 493.67,354.21 493.81,354.21 493.95,354.22 494.09,354.22 494.23,354.22 494.37,354.22 494.51,354.23 494.65,354.23 494.79,354.22 494.93,354.22 495.06,354.22 495.2,354.21 495.34,354.21 495.48,354.2 495.62,354.19 495.76,354.18 495.9,354.16 496.04,354.15 496.18,354.13 496.32,354.1 496.46,354.08 496.6,354.04 496.74,354 496.88,353.96 497.02,353.91 497.16,353.86 497.3,353.79 497.44,353.72 497.58,353.64 497.72,353.56 497.86,353.46 498,353.35 498.14,353.24 498.28,353.12 498.42,352.98 498.56,352.84 498.7,352.69 498.84,352.53 498.98,352.37 499.12,352.2 499.26,352.02 499.4,351.84 499.54,351.66 499.68,351.49 499.82,351.31 499.96,351.14 500.1,350.97 500.24,350.82 500.38,350.68 500.52,350.55 500.66,350.45 500.8,350.36 500.94,350.31 501.08,350.28 501.22,350.29 501.36,350.35 501.5,350.43 501.64,350.53 501.78,350.65 501.92,350.79 502.06,350.94 502.2,351.11 502.34,351.28 502.48,351.46 502.62,351.64 502.76,351.83 502.9,352.01 503.04,352.19 503.18,352.37 503.32,352.54 503.46,352.71 503.6,352.87 503.74,353.01 503.88,353.16 504.02,353.29 504.16,353.41 504.3,353.52 504.43,353.63 504.57,353.72 504.71,353.81 504.85,353.89 504.99,353.96 505.13,354.02 505.27,354.08 505.41,354.13 505.55,354.18 505.69,354.21 505.83,354.25 505.97,354.28 506.11,354.31 506.25,354.33 506.39,354.35 506.53,354.37 506.67,354.38 506.81,354.4 506.95,354.41 507.09,354.42 507.23,354.43 507.37,354.43 507.51,354.44 507.65,354.45 507.79,354.45 507.93,354.46 508.07,354.46 508.21,354.46 508.35,354.47 508.49,354.47 508.63,354.47 508.77,354.48 508.91,354.48 509.05,354.48 509.19,354.49 509.33,354.49 509.47,354.49 509.61,354.49 509.75,354.5 509.89,354.5 510.03,354.5 510.17,354.5 510.31,354.51 510.45,354.51 510.59,354.51 510.73,354.51 510.87,354.51 511.01,354.52 511.15,354.52 511.29,354.52 511.43,354.52 511.57,354.53 511.71,354.53 511.85,354.53 511.99,354.53 512.13,354.54 512.27,354.54 512.41,354.54 512.55,354.54 512.69,354.54 512.83,354.55 512.97,354.55 513.11,354.55 513.25,354.55 513.39,354.56 513.53,354.56 513.67,354.56 513.8,354.56 513.94,354.57 514.08,354.57 514.22,354.57 514.36,354.57 514.5,354.58 514.64,354.58 514.78,354.58 514.92,354.58 515.06,354.58 515.2,354.59 515.34,354.59 515.48,354.59 515.62,354.59 515.76,354.59 515.9,354.6 516.04,354.6 516.18,354.6 516.32,354.6 516.46,354.6 516.6,354.61 516.74,354.61 516.88,354.61 517.02,354.61 517.16,354.61 517.3,354.62 517.44,354.62 517.58,354.62 517.72,354.62 517.86,354.62 518,354.63 518.14,354.63 518.28,354.63 518.42,354.63 518.56,354.63 518.7,354.64 518.84,354.64 518.98,354.64 519.12,354.64 519.26,354.64 519.4,354.65 519.54,354.65 519.68,354.65 519.82,354.65 519.96,354.65 520.1,354.66 520.24,354.66 520.38,354.66 520.52,354.66 520.66,354.66 520.8,354.67 520.94,354.67 521.08,354.67 521.22,354.67 521.36,354.67 521.5,354.68 521.64,354.68 521.78,354.68 521.92,354.68 522.06,354.68 522.2,354.69 522.34,354.69 522.48,354.69 522.62,354.69 522.76,354.7 522.9,354.7 523.03,354.7 523.17,354.7 523.31,354.7 523.45,354.71 523.59,354.71 523.73,354.71 523.87,354.71 524.01,354.71 524.15,354.72 524.29,354.72 524.43,354.72 524.57,354.72 524.71,354.72 524.85,354.73 524.99,354.73 525.13,354.73 525.27,354.73 525.41,354.73 525.55,354.74 525.69,354.74 525.83,354.74 525.97,354.74 526.11,354.74 526.25,354.75 526.39,354.75 526.53,354.75 526.67,354.75 526.81,354.75 526.95,354.76 527.09,354.76 527.23,354.76 527.37,354.76 527.51,354.76 527.65,354.77 527.79,354.77 527.93,354.77 528.07,354.77 528.21,354.77 528.35,354.78 528.49,354.78 528.63,354.78 528.77,354.78 528.91,354.78 529.05,354.79 529.19,354.79 529.33,354.79 529.47,354.79 529.61,354.79 529.75,354.8 529.89,354.8 530.03,354.8 530.17,354.8 530.31,354.8 530.45,354.81 530.59,354.81 530.73,354.81 530.87,354.81 531.01,354.81 531.15,354.82 531.29,354.82 531.43,354.82 531.57,354.82 531.71,354.82 531.85,354.83 531.99,354.83 532.13,354.83 532.27,354.83 532.4,354.83 532.54,354.84 532.68,354.84 532.82,354.84 532.96,354.84 533.1,354.85 533.24,354.85 533.38,354.85 533.52,354.85 533.66,354.85 533.8,354.86 533.94,354.86 534.08,354.86 534.22,354.86 534.36,354.86 534.5,354.87 534.64,354.87 534.78,354.87 534.92,354.87 535.06,354.87 535.2,354.88 535.34,354.88 535.48,354.88 535.62,354.88 535.76,354.88 535.9,354.89 536.04,354.89 536.18,354.89 536.32,354.89 536.46,354.89 536.6,354.9 536.74,354.9 536.88,354.9 537.02,354.9" fill="none" stroke="#344c4e" stroke-width="1" stroke-linejoin="round"/>
<path d="M352,100.3 352.14,99.98 352.28,98.51 352.42,96.94 352.56,95.27 352.7,93.51 352.84,91.64 352.98,89.68 353.12,87.61 353.26,85.46 353.4,83.21 353.54,80.88 353.68,78.48 353.82,76.01 353.96,73.48 354.1,70.92 354.24,68.34 354.38,65.76 354.52,63.2 354.66,60.71 354.8,58.31 354.94,56.05 355.08,53.98 355.21,52.18 355.35,50.75 355.49,49.95 355.63,50.75 355.77,52.18 355.91,53.98 356.05,56.05 356.19,58.31 356.33,60.71 356.47,63.21 356.61,65.76 356.75,68.34 356.89,70.93 357.03,73.49 357.17,76.01 357.31,78.49 357.45,80.89 357.59,83.22 357.73,85.47 357.87,87.63 358.01,89.69 358.15,91.65 358.29,93.52 358.43,95.29 358.57,96.95 358.71,98.52 358.85,100 358.99,100.3 Z" fill="#ade0e2" stroke="none"/>
<path d="M352,100.3 352.14,99.98 352.28,98.51 352.42,96.94 352.56,95.27 352.7,93.51 352.84,91.64 352.98,89.68 353.12,87.61 353.26,85.46 353.4,83.21 353.54,80.88 353.68,78.48 353.82,76.01 353.96,73.48 354.1,70.92 354.24,68.34 354.38,65.76 354.52,63.2 354.66,60.71 354.8,58.31 354.94,56.05 355.08,53.98 355.21,52.18 355.35,50.75 355.49,49.95 355.63,50.75 355.77,52.18 355.91,53.98 356.05,56.05 356.19,58.31 356.33,60.71 356.47,63.21 356.61,65.76 356.75,68.34 356.89,70.93 357.03,73.49 357.17,76.01 357.31,78.49 357.45,80.89 357.59,83.22 357.73,85.47 357.87,87.63 358.01,89.69 358.15,91.65 358.29,93.52 358.43,95.29 358.57,96.95 358.71,98.52 358.85,100 358.99,100.3" fill="none" stroke="#344c4e" stroke-width="1" stroke-linejoin="round"/>
<path d="M410.18,100.3 410.32,100.13 410.46,98.72 410.6,97.24 410.74,95.69 410.88,94.09 411.02,92.43 411.15,90.73 411.29,88.99 411.43,87.22 411.57,85.43 411.71,83.63 411.85,81.82 411.99,80.03 412.13,78.25 412.27,76.5 412.41,74.79 412.55,73.13 412.69,71.53 412.83,70 412.97,68.55 413.11,67.18 413.25,65.9 413.39,64.71 413.53,63.62 413.67,62.63 413.81,61.74 413.95,62.63 414.09,63.62 414.23,64.71 414.37,65.9 414.51,67.18 414.65,68.56 414.79,70.01 414.93,71.55 415.07,73.15 415.21,74.81 415.35,76.52 415.49,78.27 415.63,80.05 415.77,81.85 415.91,83.65 416.05,85.46 416.19,87.25 416.33,89.03 416.47,90.77 416.61,92.47 416.75,94.13 416.89,95.74 417.03,97.29 417.17,98.78 417.31,100.2 417.45,100.3 Z" fill="#ade0e2" stroke="none"/>
<path d="M410.18,100.3 410.32,100.13 410.46,98.72 410.6,97.24 410.74,95.69 410.88,94.09 411.02,92.43 411.15,90.73 411.29,88.99 411.43,87.22 411.57,85.43 411.71,83.63 411.85,81.82 411.99,80.03 412.13,78.25 412.27,76.5 412.41,74.79 412.55,73.13 412.69,71.53 412.83,70 412.97,68.55 413.11,67.18 413.25,65.9 413.39,64.71 413.53,63.62 413.67,62.63 413.81,61.74 413.95,62.63 414.09,63.62 414.23,64.71 414.37,65.9 414.51,67.18 414.65,68.56 414.79,70.01 414.93,71.55 415.07,73.15 415.21,74.81 415.35,76.52 415.49,78.27 415.63,80.05 415.77,81.85 415.91,83.65 416.05,85.46 416.19,87.25 416.33,89.03 416.47,90.77 416.61,92.47 416.75,94.13 416.89,95.74 417.03,97.29 417.17,98.78 417.31,100.2 417.45,100.3" fill="none" stroke="#344c4e" stroke-width="1" stroke-linejoin="round"/>
<g stroke="#111" stroke-width="1.3" fill="none">
<line x1="89.5" y1="27.4" x2="89.5" y2="100.4"/>
<line x1="89.5" y1="105.9" x2="89.5" y2="358.3"/>
<line x1="88.9" y1="357.66" x2="537.4" y2="357.66"/>
<line x1="82.6" y1="99.94" x2="89.5" y2="99.94"/>
<line x1="82.6" y1="81.78" x2="89.5" y2="81.78"/>
<line x1="82.6" y1="63.62" x2="89.5" y2="63.62"/>
<line x1="82.6" y1="45.46" x2="89.5" y2="45.46"/>
<line x1="82.6" y1="27.3" x2="89.5" y2="27.3"/>
<line x1="85.8" y1="90.86" x2="89.5" y2="90.86"/>
<line x1="85.8" y1="72.7" x2="89.5" y2="72.7"/>
<line x1="85.8" y1="54.54" x2="89.5" y2="54.54"/>
<line x1="85.8" y1="36.38" x2="89.5" y2="36.38"/>
<line x1="82.6" y1="357.66" x2="89.5" y2="357.66"/>
<line x1="82.6" y1="317.1" x2="89.5" y2="317.1"/>
<line x1="82.6" y1="276.54" x2="89.5" y2="276.54"/>
<line x1="82.6" y1="235.98" x2="89.5" y2="235.98"/>
<line x1="82.6" y1="195.42" x2="89.5" y2="195.42"/>
<line x1="82.6" y1="154.86" x2="89.5" y2="154.86"/>
<line x1="82.6" y1="114.3" x2="89.5" y2="114.3"/>
<line x1="85.8" y1="337.38" x2="89.5" y2="337.38"/>
<line x1="85.8" y1="296.82" x2="89.5" y2="296.82"/>
<line x1="85.8" y1="256.26" x2="89.5" y2="256.26"/>
<line x1="85.8" y1="215.7" x2="89.5" y2="215.7"/>
<line x1="85.8" y1="175.14" x2="89.5" y2="175.14"/>
<line x1="85.8" y1="134.58" x2="89.5" y2="134.58"/>
<line x1="89.5" y1="357.66" x2="89.5" y2="364.2"/>
<line x1="117.47" y1="357.66" x2="117.47" y2="364.2"/>
<line x1="145.44" y1="357.66" x2="145.44" y2="364.2"/>
<line x1="173.41" y1="357.66" x2="173.41" y2="364.2"/>
<line x1="201.38" y1="357.66" x2="201.38" y2="364.2"/>
<line x1="229.35" y1="357.66" x2="229.35" y2="364.2"/>
<line x1="257.32" y1="357.66" x2="257.32" y2="364.2"/>
<line x1="285.29" y1="357.66" x2="285.29" y2="364.2"/>
<line x1="313.26" y1="357.66" x2="313.26" y2="364.2"/>
<line x1="341.23" y1="357.66" x2="341.23" y2="364.2"/>
<line x1="369.2" y1="357.66" x2="369.2" y2="364.2"/>
<line x1="397.17" y1="357.66" x2="397.17" y2="364.2"/>
<line x1="425.14" y1="357.66" x2="425.14" y2="364.2"/>
<line x1="453.11" y1="357.66" x2="453.11" y2="364.2"/>
<line x1="481.08" y1="357.66" x2="481.08" y2="364.2"/>
<line x1="509.05" y1="357.66" x2="509.05" y2="364.2"/>
<line x1="537.02" y1="357.66" x2="537.02" y2="364.2"/>
<line x1="103.48" y1="357.66" x2="103.48" y2="361.5"/>
<line x1="131.45" y1="357.66" x2="131.45" y2="361.5"/>
<line x1="159.43" y1="357.66" x2="159.43" y2="361.5"/>
<line x1="187.39" y1="357.66" x2="187.39" y2="361.5"/>
<line x1="215.37" y1="357.66" x2="215.37" y2="361.5"/>
<line x1="243.33" y1="357.66" x2="243.33" y2="361.5"/>
<line x1="271.31" y1="357.66" x2="271.31" y2="361.5"/>
<line x1="299.27" y1="357.66" x2="299.27" y2="361.5"/>
<line x1="327.25" y1="357.66" x2="327.25" y2="361.5"/>
<line x1="355.21" y1="357.66" x2="355.21" y2="361.5"/>
<line x1="383.19" y1="357.66" x2="383.19" y2="361.5"/>
<line x1="411.15" y1="357.66" x2="411.15" y2="361.5"/>
<line x1="439.12" y1="357.66" x2="439.12" y2="361.5"/>
<line x1="467.09" y1="357.66" x2="467.09" y2="361.5"/>
<line x1="495.06" y1="357.66" x2="495.06" y2="361.5"/>
<line x1="523.03" y1="357.66" x2="523.03" y2="361.5"/>
<line x1="82.9" y1="103.3" x2="96.2" y2="97.5"/>
<line x1="82.9" y1="109" x2="96.2" y2="103.3"/>
</g>
<g style='font-family:"Liberation Sans",sans-serif;font-size:13px' fill="#1a1a1a" text-anchor="end">
<text x="78.2" y="103.44">40000</text>
<text x="78.2" y="85.28">80000</text>
<text x="78.2" y="67.12">120000</text>
<text x="78.2" y="48.96">160000</text>
<text x="78.2" y="30.8">200000</text>
<text x="78.2" y="361.96">0</text>
<text x="78.2" y="321.4">5000</text>
<text x="78.2" y="280.84">10000</text>
<text x="78.2" y="240.28">15000</text>
<text x="78.2" y="199.72">20000</text>
<text x="78.2" y="159.16">25000</text>
<text x="78.2" y="118.6">30000</text>
</g>
<g style='font-family:"Liberation Sans",sans-serif;font-size:13px' fill="#1a1a1a" text-anchor="middle">
<text x="89.5" y="379.3">1</text>
<text x="117.47" y="379.3">2</text>
<text x="145.44" y="379.3">3</text>
<text x="173.41" y="379.3">4</text>
<text x="201.38" y="379.3">5</text>
<text x="229.35" y="379.3">6</text>
<text x="257.32" y="379.3">7</text>
<text x="285.29" y="379.3">8</text>
<text x="313.26" y="379.3">9</text>
<text x="341.23" y="379.3">10</text>
<text x="369.2" y="379.3">11</text>
<text x="397.17" y="379.3">12</text>
<text x="425.14" y="379.3">13</text>
<text x="453.11" y="379.3">14</text>
<text x="481.08" y="379.3">15</text>
<text x="509.05" y="379.3">16</text>
<text x="537.02" y="379.3">17</text>
</g>
<text class="t" x="314" y="404.6" text-anchor="middle" style='font-family:"Liberation Sans",sans-serif;font-size:16.3px' fill="#111">Energy (keV)</text>
<text class="t" transform="translate(19.2,179.9) rotate(-90)" text-anchor="middle" style='font-family:"Liberation Sans",sans-serif;font-size:14.8px' fill="#111">XRF intensity signal (total counts)</text>
<line x1="196.8" y1="18.5" x2="233.6" y2="18.5" stroke="#2f3f3f" stroke-width="1"/>
<text class="t" x="238" y="24.4" style='font-family:"Liberation Sans",sans-serif;font-size:16px' fill="#111">OVERGLAZE BLUE SHARD 595</text>
<text class="p" transform="translate(104.1,351.2) rotate(-90)" textLength="24.6" lengthAdjust="spacingAndGlyphs" style='font-family:"Liberation Sans",sans-serif;font-size:8.8px' fill="#111">Al K<tspan style="font-size:80%">&#945;</tspan></text>
<text class="p" transform="translate(112.9,290.7) rotate(-90)" textLength="24" lengthAdjust="spacingAndGlyphs" style='font-family:"Liberation Sans",sans-serif;font-size:8.8px' fill="#111">Si K<tspan style="font-size:80%">&#945;</tspan></text>
<text class="p" transform="translate(129.7,185.7) rotate(-90)" textLength="30" lengthAdjust="spacingAndGlyphs" style='font-family:"Liberation Sans",sans-serif;font-size:8.8px' fill="#111">Pb M<tspan style="font-size:80%">&#945;</tspan></text>
<text class="p" transform="translate(156.8,293.9) rotate(-90)" textLength="22.2" lengthAdjust="spacingAndGlyphs" style='font-family:"Liberation Sans",sans-serif;font-size:8.8px' fill="#111">K K<tspan style="font-size:80%">&#945;</tspan></text>
<text class="p" transform="translate(168.24,328.8) rotate(-90)" textLength="62.2" lengthAdjust="spacingAndGlyphs" style='font-family:"Liberation Sans",sans-serif;font-size:9.0px' fill="#111">K K<tspan style="font-size:80%">&#946;</tspan> + Ca K<tspan style="font-size:80%">&#945;</tspan></text>
<text class="p" transform="translate(190.43,344.8) rotate(-90)" textLength="20.2" lengthAdjust="spacingAndGlyphs" style='font-family:"Liberation Sans",sans-serif;font-size:8px' fill="#111">Ti K<tspan style="font-size:80%">&#945;</tspan></text>
<text class="p" transform="translate(229,343.7) rotate(-90)" textLength="24.9" lengthAdjust="spacingAndGlyphs" style='font-family:"Liberation Sans",sans-serif;font-size:7.4px' fill="#111">Mn K<tspan style="font-size:80%">&#945;</tspan></text>
<text class="p" transform="translate(242.06,303.4) rotate(-90)" textLength="28.8" lengthAdjust="spacingAndGlyphs" style='font-family:"Liberation Sans",sans-serif;font-size:8.6px' fill="#111">Fe K<tspan style="font-size:80%">&#945;</tspan></text>
<text class="p" transform="translate(256.96,329.4) rotate(-90)" textLength="70" lengthAdjust="spacingAndGlyphs" style='font-family:"Liberation Sans",sans-serif;font-size:9.3px' fill="#111">Co K<tspan style="font-size:80%">&#945;</tspan> + Fe K<tspan style="font-size:80%">&#946;</tspan></text>
<text class="p" transform="translate(273.1,309.9) rotate(-90)" textLength="65.8" lengthAdjust="spacingAndGlyphs" style='font-family:"Liberation Sans",sans-serif;font-size:8.8px' fill="#111">Co K<tspan style="font-size:80%">&#946;</tspan> + Ni K<tspan style="font-size:80%">&#945;</tspan></text>
<text class="p" transform="translate(291.34,284.4) rotate(-90)" textLength="28.7" lengthAdjust="spacingAndGlyphs" style='font-family:"Liberation Sans",sans-serif;font-size:9.0px' fill="#111">Cu K<tspan style="font-size:80%">&#945;</tspan></text>
<text class="p" transform="translate(303,325.2) rotate(-90)" textLength="25.3" lengthAdjust="spacingAndGlyphs" style='font-family:"Liberation Sans",sans-serif;font-size:8.8px' fill="#111">Zn K<tspan style="font-size:80%">&#945;</tspan></text>
<text class="p" transform="translate(312.81,333.4) rotate(-90)" textLength="20" lengthAdjust="spacingAndGlyphs" style='font-family:"Liberation Sans",sans-serif;font-size:7px' fill="#111">Cu K<tspan style="font-size:80%">&#946;</tspan></text>
<text class="p" transform="translate(392.6,337.2) rotate(-90)" textLength="26.8" lengthAdjust="spacingAndGlyphs" style='font-family:"Liberation Sans",sans-serif;font-size:8.8px' fill="#111">As K<tspan style="font-size:80%">&#946;</tspan></text>
<text class="p" transform="translate(460,344.2) rotate(-90)" textLength="26" lengthAdjust="spacingAndGlyphs" style='font-family:"Liberation Sans",sans-serif;font-size:8.8px' fill="#111">Sr K<tspan style="font-size:80%">&#945;</tspan></text>
<text class="p" transform="translate(475.8,247.3) rotate(-90)" textLength="25.2" lengthAdjust="spacingAndGlyphs" style='font-family:"Liberation Sans",sans-serif;font-size:8.8px' fill="#111">Pb L<tspan style="font-size:80%">&#947;</tspan></text>
<text class="p" transform="translate(505.2,348.5) rotate(-90)" textLength="25.2" lengthAdjust="spacingAndGlyphs" style='font-family:"Liberation Sans",sans-serif;font-size:8.8px' fill="#111">Sr K<tspan style="font-size:80%">&#946;</tspan></text>
<text class="p" x="320.6" y="294.7" text-anchor="middle" textLength="13.5" lengthAdjust="spacingAndGlyphs" style='font-family:"Liberation Sans",sans-serif;font-size:12px' fill="#111">Pb</text>
<text class="p" x="372.6" y="325.6" text-anchor="middle" style='font-family:"Liberation Sans",sans-serif;font-size:9.4px' fill="#111">Pb</text>
<text class="t" x="355.7" y="45.9" text-anchor="middle" style='font-family:"Liberation Sans",sans-serif;font-size:12px' fill="#111">Pb L<tspan style="font-size:80%">&#945;</tspan></text>
<text class="t" x="413" y="55.5" text-anchor="middle" style='font-family:"Liberation Sans",sans-serif;font-size:10.5px' fill="#111">Pb L<tspan style="font-size:80%">&#946;</tspan></text>
</svg>
</body></html>
